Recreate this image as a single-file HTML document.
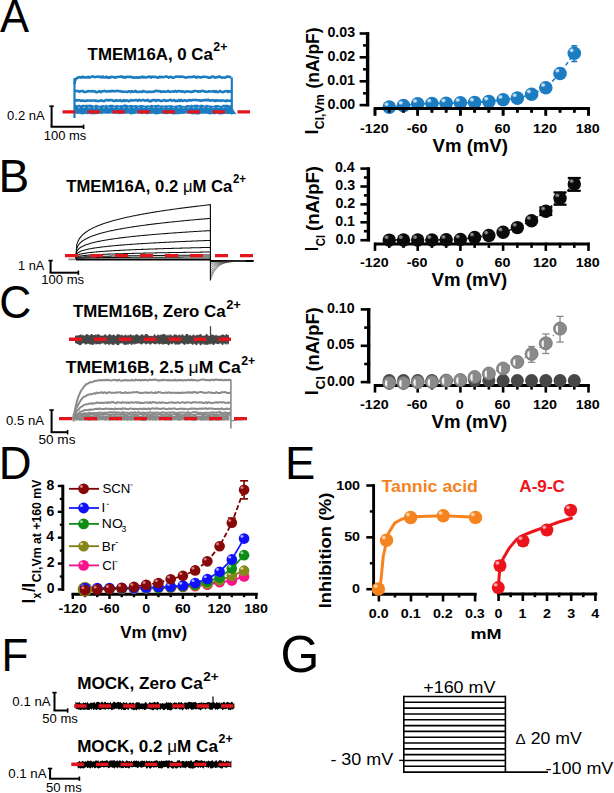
<!DOCTYPE html>
<html><head><meta charset="utf-8"><style>
html,body{margin:0;padding:0;background:#fff;}
svg{display:block;}
text{font-family:"Liberation Sans",sans-serif;}
</style></head><body>
<svg width="614" height="793" viewBox="0 0 614 793">
<defs><radialGradient id="hl_gBlue"><stop offset="0" stop-color="#ffffff" stop-opacity="0.9"/><stop offset="0.5" stop-color="#ffffff" stop-opacity="0.63"/><stop offset="1" stop-color="#ffffff" stop-opacity="0"/></radialGradient>
<radialGradient id="hl_gBlack"><stop offset="0" stop-color="#b0b0b0" stop-opacity="0.9"/><stop offset="0.5" stop-color="#b0b0b0" stop-opacity="0.63"/><stop offset="1" stop-color="#b0b0b0" stop-opacity="0"/></radialGradient>
<radialGradient id="hl_gGreyL"><stop offset="0" stop-color="#ffffff" stop-opacity="0.0"/><stop offset="0.5" stop-color="#ffffff" stop-opacity="0.0"/><stop offset="1" stop-color="#ffffff" stop-opacity="0"/></radialGradient>
<radialGradient id="hl_gGreyD"><stop offset="0" stop-color="#474747" stop-opacity="0.0"/><stop offset="0.5" stop-color="#474747" stop-opacity="0.0"/><stop offset="1" stop-color="#474747" stop-opacity="0"/></radialGradient>
<radialGradient id="hl_gMaroon"><stop offset="0" stop-color="#ffb0b0" stop-opacity="0.85"/><stop offset="0.5" stop-color="#ffb0b0" stop-opacity="0.595"/><stop offset="1" stop-color="#ffb0b0" stop-opacity="0"/></radialGradient>
<radialGradient id="hl_gBlueD"><stop offset="0" stop-color="#e0e8ff" stop-opacity="0.9"/><stop offset="0.5" stop-color="#e0e8ff" stop-opacity="0.63"/><stop offset="1" stop-color="#e0e8ff" stop-opacity="0"/></radialGradient>
<radialGradient id="hl_gGreen"><stop offset="0" stop-color="#c8f8c8" stop-opacity="0.85"/><stop offset="0.5" stop-color="#c8f8c8" stop-opacity="0.595"/><stop offset="1" stop-color="#c8f8c8" stop-opacity="0"/></radialGradient>
<radialGradient id="hl_gOlive"><stop offset="0" stop-color="#f8f8c8" stop-opacity="0.85"/><stop offset="0.5" stop-color="#f8f8c8" stop-opacity="0.595"/><stop offset="1" stop-color="#f8f8c8" stop-opacity="0"/></radialGradient>
<radialGradient id="hl_gPink"><stop offset="0" stop-color="#ffd8ec" stop-opacity="0.85"/><stop offset="0.5" stop-color="#ffd8ec" stop-opacity="0.595"/><stop offset="1" stop-color="#ffd8ec" stop-opacity="0"/></radialGradient>
<radialGradient id="hl_gOrange"><stop offset="0" stop-color="#fff0e0" stop-opacity="0.9"/><stop offset="0.5" stop-color="#fff0e0" stop-opacity="0.63"/><stop offset="1" stop-color="#fff0e0" stop-opacity="0"/></radialGradient>
<radialGradient id="hl_gRed"><stop offset="0" stop-color="#ffe0e0" stop-opacity="0.9"/><stop offset="0.5" stop-color="#ffe0e0" stop-opacity="0.63"/><stop offset="1" stop-color="#ffe0e0" stop-opacity="0"/></radialGradient></defs>
<rect width="614" height="793" fill="#fff"/>
<text x="-0.09" y="32.2" font-size="46.5" font-weight="normal" fill="#000" textLength="29.07" lengthAdjust="spacingAndGlyphs">A</text>
<text x="-1.38" y="192.2" font-size="46.5" font-weight="normal" fill="#000" textLength="30.7" lengthAdjust="spacingAndGlyphs">B</text>
<text x="-0.65" y="318.4" font-size="47" font-weight="normal" fill="#000" textLength="32.04" lengthAdjust="spacingAndGlyphs">C</text>
<text x="-1.33" y="478.6" font-size="46.5" font-weight="normal" fill="#000" textLength="32.8" lengthAdjust="spacingAndGlyphs">D</text>
<text x="284.88" y="478.7" font-size="46.8" font-weight="normal" fill="#000" textLength="30.27" lengthAdjust="spacingAndGlyphs">E</text>
<text x="1.39" y="671" font-size="46.5" font-weight="normal" fill="#000" textLength="26.87" lengthAdjust="spacingAndGlyphs">F</text>
<text x="280.59" y="671.6" font-size="51.4" font-weight="normal" fill="#000" textLength="38.84" lengthAdjust="spacingAndGlyphs">G</text>
<text x="87.61" y="59.8" font-size="17" font-weight="bold" fill="#000" textLength="125.18" lengthAdjust="spacingAndGlyphs">TMEM16A, 0 Ca</text>
<text x="213.37" y="51.4" font-size="12.2" font-weight="bold" fill="#000" textLength="14.13" lengthAdjust="spacingAndGlyphs">2+</text>
<text x="66.21" y="191.8" font-size="17" font-weight="bold" fill="#000" textLength="166.18" lengthAdjust="spacingAndGlyphs">TMEM16A, 0.2 <tspan font-weight="normal">μ</tspan>M Ca</text>
<text x="233" y="183.4" font-size="12.2" font-weight="bold" fill="#000" textLength="13.06" lengthAdjust="spacingAndGlyphs">2+</text>
<text x="73.01" y="317.4" font-size="17" font-weight="bold" fill="#000" textLength="152.58" lengthAdjust="spacingAndGlyphs">TMEM16B, Zero Ca</text>
<text x="226.15" y="309" font-size="12.2" font-weight="bold" fill="#000" textLength="14.77" lengthAdjust="spacingAndGlyphs">2+</text>
<text x="65.7" y="372.9" font-size="17" font-weight="bold" fill="#000" textLength="174.99" lengthAdjust="spacingAndGlyphs">TMEM16B, 2.5 <tspan font-weight="normal">μ</tspan>M Ca</text>
<text x="241.27" y="364.5" font-size="12.2" font-weight="bold" fill="#000" textLength="14.02" lengthAdjust="spacingAndGlyphs">2+</text>
<text x="77.15" y="689" font-size="17" font-weight="bold" fill="#000" textLength="125.64" lengthAdjust="spacingAndGlyphs">MOCK, Zero Ca</text>
<text x="203.33" y="680.6" font-size="12.2" font-weight="bold" fill="#000" textLength="15.42" lengthAdjust="spacingAndGlyphs">2+</text>
<text x="77.16" y="751.7" font-size="17" font-weight="bold" fill="#000" textLength="140.73" lengthAdjust="spacingAndGlyphs">MOCK, 0.2 <tspan font-weight="normal">μ</tspan>M Ca</text>
<text x="218.47" y="743.3" font-size="12.2" font-weight="bold" fill="#000" textLength="14.24" lengthAdjust="spacingAndGlyphs">2+</text>
<line x1="51.6" y1="106.2" x2="51.6" y2="126.8" stroke="#000" stroke-width="2"/>
<line x1="49.4" y1="106.2" x2="53.8" y2="106.2" stroke="#000" stroke-width="1.6"/>
<line x1="50.6" y1="126.8" x2="83.6" y2="126.8" stroke="#000" stroke-width="2"/>
<line x1="83.6" y1="124.6" x2="83.6" y2="129" stroke="#000" stroke-width="1.6"/>
<text x="7.09" y="119.8" font-size="12.2" font-weight="normal" fill="#000" textLength="37.63" lengthAdjust="spacingAndGlyphs">0.2 nA</text>
<text x="43.71" y="139.9" font-size="12.2" font-weight="normal" fill="#000" textLength="42.56" lengthAdjust="spacingAndGlyphs">100 ms</text>
<line x1="50.6" y1="260.6" x2="50.6" y2="272.7" stroke="#000" stroke-width="2"/>
<line x1="48.4" y1="260.6" x2="52.8" y2="260.6" stroke="#000" stroke-width="1.6"/>
<line x1="49.6" y1="272.7" x2="78.4" y2="272.7" stroke="#000" stroke-width="2"/>
<line x1="78.4" y1="270.5" x2="78.4" y2="274.9" stroke="#000" stroke-width="1.6"/>
<text x="18.13" y="269.8" font-size="12.2" font-weight="normal" fill="#000" textLength="26.19" lengthAdjust="spacingAndGlyphs">1 nA</text>
<text x="41.2" y="284.4" font-size="12.2" font-weight="normal" fill="#000" textLength="42.87" lengthAdjust="spacingAndGlyphs">100 ms</text>
<line x1="51.6" y1="410" x2="51.6" y2="432.2" stroke="#000" stroke-width="2"/>
<line x1="49.4" y1="410" x2="53.8" y2="410" stroke="#000" stroke-width="1.6"/>
<line x1="50.6" y1="432.2" x2="67.6" y2="432.2" stroke="#000" stroke-width="2"/>
<line x1="67.6" y1="430" x2="67.6" y2="434.4" stroke="#000" stroke-width="1.6"/>
<text x="5.99" y="424.8" font-size="12.2" font-weight="normal" fill="#000" textLength="38.04" lengthAdjust="spacingAndGlyphs">0.5 nA</text>
<text x="38.46" y="443.6" font-size="12.2" font-weight="normal" fill="#000" textLength="37.04" lengthAdjust="spacingAndGlyphs">50 ms</text>
<line x1="54.5" y1="692.6" x2="54.5" y2="710.5" stroke="#000" stroke-width="2"/>
<line x1="52.3" y1="692.6" x2="56.7" y2="692.6" stroke="#000" stroke-width="1.6"/>
<line x1="53.5" y1="710.5" x2="67.7" y2="710.5" stroke="#000" stroke-width="2"/>
<line x1="67.7" y1="708.3" x2="67.7" y2="712.7" stroke="#000" stroke-width="1.6"/>
<text x="12.38" y="706.1" font-size="12.2" font-weight="normal" fill="#000" textLength="38.24" lengthAdjust="spacingAndGlyphs">0.1 nA</text>
<text x="42.28" y="723.4" font-size="12.2" font-weight="normal" fill="#000" textLength="35.6" lengthAdjust="spacingAndGlyphs">50 ms</text>
<line x1="50.1" y1="768.5" x2="50.1" y2="778.7" stroke="#000" stroke-width="2"/>
<line x1="47.9" y1="768.5" x2="52.3" y2="768.5" stroke="#000" stroke-width="1.6"/>
<line x1="49.1" y1="778.7" x2="79.4" y2="778.7" stroke="#000" stroke-width="2"/>
<line x1="79.4" y1="776.5" x2="79.4" y2="780.9" stroke="#000" stroke-width="1.6"/>
<text x="8.28" y="777.7" font-size="12.2" font-weight="normal" fill="#000" textLength="38.34" lengthAdjust="spacingAndGlyphs">0.1 nA</text>
<text x="46.07" y="791.6" font-size="12.2" font-weight="normal" fill="#000" textLength="35.8" lengthAdjust="spacingAndGlyphs">50 ms</text>
<polygon points="74.5,104.95 76,104.71 77.5,105.41 79,104.6 80.5,105.25 82,105.01 83.5,104.58 85,105.21 86.5,104.55 88,105.11 89.5,104.6 91,104.63 92.5,105.09 94,105.66 95.5,104.67 97,104.81 98.5,105.38 100,105.83 101.5,105.31 103,105.06 104.5,105.87 106,104.57 107.5,105.7 109,104.91 110.5,104.7 112,104.66 113.5,104.93 115,105.64 116.5,104.75 118,105.31 119.5,105.39 121,105.02 122.5,105.27 124,104.59 125.5,104.58 127,104.79 128.5,105.45 130,105.1 131.5,104.94 133,105.32 134.5,105.13 136,104.92 137.5,105.61 139,105.48 140.5,104.84 142,105.3 143.5,105.24 145,105.73 146.5,105.52 148,104.9 149.5,105.87 151,104.67 152.5,105.09 154,105.56 155.5,104.71 157,105.18 158.5,104.55 160,105.44 161.5,105.57 163,105.3 164.5,105.73 166,104.94 167.5,105.47 169,105.33 170.5,105.31 172,105.14 173.5,105.68 175,105.82 176.5,105.16 178,105.43 179.5,104.58 181,105.48 182.5,105.41 184,105.89 185.5,105.65 187,104.9 188.5,105.04 190,105.44 191.5,104.53 193,105.15 194.5,104.74 196,104.66 197.5,104.58 199,105.58 200.5,104.68 202,104.85 203.5,105.05 205,105.72 206.5,104.61 208,105.13 209.5,105.27 211,105.74 212.5,105.65 214,105.71 215.5,104.89 217,105.08 218.5,105 220,105.74 221.5,105.84 223,104.71 224.5,104.75 226,104.82 227.5,104.83 229,105.18 230.5,105.32 236.5,114.45 235,113.9 233.5,113.9 232,114.47 230.5,114.3 229,113.83 227.5,114.29 226,113.68 224.5,113.98 223,114.25 221.5,114.28 220,114.41 218.5,114.16 217,113.58 215.5,114.3 214,114.15 212.5,113.98 211,114.34 209.5,114.4 208,114.12 206.5,113.7 205,113.7 203.5,113.73 202,113.72 200.5,113.86 199,114.46 197.5,114.49 196,114.44 194.5,113.95 193,114.46 191.5,114.19 190,113.76 188.5,113.78 187,113.53 185.5,113.53 184,113.86 182.5,114.02 181,113.73 179.5,114.24 178,114.32 176.5,114.31 175,114.35 173.5,114.48 172,114.31 170.5,113.72 169,113.83 167.5,114.28 166,114.03 164.5,114.27 163,113.67 161.5,113.87 160,113.76 158.5,114.2 157,114.36 155.5,114.48 154,114.03 152.5,113.53 151,114.04 149.5,113.65 148,114.03 146.5,114.45 145,113.52 143.5,113.66 142,114.33 140.5,113.76 139,113.84 137.5,113.6 136,113.59 134.5,113.98 133,113.97 131.5,114.49 130,114.35 128.5,113.62 127,113.86 125.5,113.85 124,113.75 122.5,113.65 121,114.11 119.5,114.37 118,113.53 116.5,113.86 115,113.6 113.5,113.65 112,113.5 110.5,113.55 109,113.84 107.5,113.66 106,113.71 104.5,113.57 103,113.56 101.5,114.13 100,113.6 98.5,113.9 97,113.89 95.5,114.3 94,114.37 92.5,114.28 91,114.4 89.5,113.55 88,114.18 86.5,114.12 85,114.02 83.5,114.19 82,114.45 80.5,114.07 79,113.87 77.5,113.92 76,113.5 74.5,113.76" fill="#1b7cc0"/>
<polyline points="78,107.73 81,107.4 84,107.38 87,107.39 90,107.84 93,107.78 96,107.39 99,107.8 102,107.89 105,107.69 108,107.51 111,107.63 114,107.38 117,107.31 120,107.88 123,107.69 126,107.62 129,107.86 132,107.56 135,107.82 138,107.8 141,107.43 144,107.45 147,107.48 150,107.44 153,107.65 156,107.46 159,107.55 162,107.38 165,107.85 168,107.51 171,107.57 174,107.65 177,107.84 180,107.55 183,107.85 186,107.6 189,107.62 192,107.61 195,107.31 198,107.56 201,107.41 204,107.3 207,107.78 210,107.4 213,107.58 216,107.74 219,107.63 222,107.5 225,107.61 228,107.63" fill="none" stroke="#9fd0f0" stroke-width="0.8" stroke-linejoin="round" stroke-dasharray="2 3"/>
<polyline points="74.5,100.87 75.7,99.99 76.9,100.58 78.1,100.17 79.3,100.21 80.5,100.85 81.7,100.51 82.9,100.58 84.1,100.84 85.3,101.04 86.5,100.43 87.7,100.65 88.9,100.51 90.1,100.52 91.3,100.75 92.5,100.44 93.7,100.54 94.9,100.47 96.1,101.07 97.3,100.76 98.5,100.99 99.7,101.07 100.9,100.19 102.1,100.58 103.3,101.08 104.5,100.94 105.7,100.03 106.9,100.01 108.1,100.42 109.3,99.94 110.5,100.16 111.7,99.95 112.9,100.72 114.1,100.87 115.3,101.02 116.5,100.05 117.7,100.78 118.9,100.71 120.1,100.04 121.3,101 122.5,101.11 123.7,100.14 124.9,101.09 126.1,100.37 127.3,100.48 128.5,101.14 129.7,100.93 130.9,100.06 132.1,100.41 133.3,100.52 134.5,100.29 135.7,100.1 136.9,100.26 138.1,100.79 139.3,99.88 140.5,100.57 141.7,100.42 142.9,99.87 144.1,100.28 145.3,100.66 146.5,100.52 147.7,99.93 148.9,101.13 150.1,100.87 151.3,101.11 152.5,99.99 153.7,100.2 154.9,99.9 156.1,100.86 157.3,100.2 158.5,100.02 159.7,100.4 160.9,101.03 162.1,100.91 163.3,100.19 164.5,100.04 165.7,101.04 166.9,100.59 168.1,100.76 169.3,99.97 170.5,99.92 171.7,100.74 172.9,100.4 174.1,99.94 175.3,101.07 176.5,100.67 177.7,100.89 178.9,99.96 180.1,100.96 181.3,99.94 182.5,100.97 183.7,100.44 184.9,100.29 186.1,100.57 187.3,101.05 188.5,100.2 189.7,100.02 190.9,100.53 192.1,100.16 193.3,99.99 194.5,100.06 195.7,99.92 196.9,100.11 198.1,100.26 199.3,100.25 200.5,100.84 201.7,100.23 202.9,100.5 204.1,100.08 205.3,100.3 206.5,99.87 207.7,100.18 208.9,99.87 210.1,100.8 211.3,100.57 212.5,100.1 213.7,100.47 214.9,101.07 216.1,99.99 217.3,100.91 218.5,100.41 219.7,100.49 220.9,100.93 222.1,100.36 223.3,100.51 224.5,100.74 225.7,101.13 226.9,100.3 228.1,100.93 229.3,100.77 230.5,100.68 231.7,100.38" fill="none" stroke="#1b7cc0" stroke-width="2.6" stroke-linejoin="round"/>
<polyline points="74.5,91.3 75.7,90.92 76.9,91.02 78.1,90.94 79.3,91.81 80.5,91.18 81.7,91.06 82.9,90.96 84.1,91.94 85.3,91.98 86.5,91.72 87.7,91.22 88.9,91.16 90.1,91.23 91.3,91.45 92.5,91.05 93.7,91.43 94.9,91.19 96.1,92.1 97.3,92.11 98.5,91.56 99.7,91.17 100.9,92.11 102.1,91.25 103.3,91.31 104.5,90.85 105.7,91.35 106.9,91.47 108.1,91.5 109.3,91.11 110.5,91.51 111.7,90.86 112.9,91.19 114.1,90.97 115.3,91.37 116.5,90.9 117.7,90.88 118.9,91.25 120.1,91.15 121.3,91.61 122.5,91.54 123.7,91.83 124.9,91.7 126.1,91.78 127.3,91.99 128.5,91.36 129.7,91.27 130.9,92.13 132.1,91.04 133.3,91.79 134.5,91.69 135.7,90.91 136.9,91.94 138.1,92.01 139.3,91.67 140.5,91.8 141.7,91.91 142.9,91.03 144.1,91.53 145.3,91.51 146.5,91.94 147.7,91.9 148.9,91.92 150.1,91.61 151.3,92.01 152.5,91.74 153.7,91.75 154.9,91.15 156.1,90.89 157.3,91.02 158.5,91.32 159.7,90.99 160.9,91.94 162.1,91.58 163.3,91.67 164.5,91.66 165.7,91.73 166.9,91.49 168.1,90.85 169.3,91.89 170.5,91.82 171.7,91.5 172.9,91.55 174.1,91.71 175.3,90.94 176.5,91.81 177.7,91.18 178.9,90.95 180.1,91.2 181.3,91.8 182.5,91.12 183.7,91.81 184.9,92.12 186.1,91.49 187.3,91.35 188.5,91.47 189.7,91.74 190.9,91.85 192.1,91.65 193.3,91.69 194.5,90.95 195.7,91.04 196.9,91.18 198.1,91.82 199.3,91.25 200.5,91.59 201.7,90.87 202.9,90.93 204.1,91.2 205.3,91.72 206.5,91.75 207.7,91.73 208.9,91.23 210.1,91.52 211.3,91.45 212.5,91.46 213.7,91 214.9,92.01 216.1,91.11 217.3,92.12 218.5,92.07 219.7,90.87 220.9,91.45 222.1,91.92 223.3,92.11 224.5,91.43 225.7,91.2 226.9,91.12 228.1,92.08 229.3,91.12 230.5,91.61 231.7,91.03" fill="none" stroke="#1b7cc0" stroke-width="2.6" stroke-linejoin="round"/>
<polyline points="74.5,84 75,80.5 76.5,78.2 79,77.3 80,77.13 81.2,77.69 82.4,76.62 83.6,77.52 84.8,77.11 86,77.6 87.2,77.36 88.4,76.75 89.6,77.62 90.8,77.08 92,76.48 93.2,76.45 94.4,77.09 95.6,77.04 96.8,76.84 98,76.63 99.2,76.9 100.4,76.86 101.6,77.54 102.8,76.45 104,77.43 105.2,77.54 106.4,76.61 107.6,77.65 108.8,77.38 110,77.62 111.2,76.83 112.4,76.93 113.6,76.96 114.8,77.75 116,77.22 117.2,76.92 118.4,77.01 119.6,76.81 120.8,76.51 122,76.58 123.2,77.54 124.4,76.82 125.6,77.67 126.8,76.77 128,76.8 129.2,77.11 130.4,76.7 131.6,76.94 132.8,77.69 134,77.6 135.2,77.51 136.4,77.27 137.6,77.64 138.8,77.67 140,77.16 141.2,77.39 142.4,76.51 143.6,77.4 144.8,77.04 146,77.43 147.2,77.29 148.4,76.82 149.6,76.51 150.8,77.65 152,76.62 153.2,77.06 154.4,76.9 155.6,76.84 156.8,77.41 158,77.72 159.2,76.79 160.4,77.3 161.6,76.84 162.8,77.17 164,76.96 165.2,76.67 166.4,76.66 167.6,76.72 168.8,77.63 170,77.1 171.2,76.74 172.4,77.63 173.6,77.75 174.8,77.03 176,76.63 177.2,76.7 178.4,76.57 179.6,76.89 180.8,76.57 182,76.76 183.2,76.79 184.4,77.19 185.6,77.6 186.8,77.42 188,76.99 189.2,76.99 190.4,77.13 191.6,76.94 192.8,76.89 194,76.53 195.2,76.81 196.4,77.71 197.6,76.61 198.8,77.1 200,77.27 201.2,77.57 202.4,76.73 203.6,76.8 204.8,76.77 206,76.97 207.2,77.03 208.4,77.69 209.6,77.55 210.8,77.58 212,76.48 213.2,76.49 214.4,77.37 215.6,77.61 216.8,77.07 218,77.21 219.2,76.45 220.4,76.96 221.6,77.65 222.8,77.52 224,77.56 225.2,77.71 226.4,76.77 227.6,76.59 228.8,76.65 230,77.13 231.2,77.34" fill="none" stroke="#1b7cc0" stroke-width="2.6" stroke-linejoin="round"/>
<line x1="74.5" y1="78" x2="74.5" y2="118" stroke="#1b7cc0" stroke-width="2.2"/>
<line x1="231.8" y1="77.5" x2="231.8" y2="113" stroke="#1b7cc0" stroke-width="2.2"/>
<line x1="62.5" y1="111.8" x2="250" y2="111.8" stroke="#e3161e" stroke-width="3.3" stroke-dasharray="12.5 12.5"/>
<polyline points="75.8,258.6 76.8,244.6 77.8,241.66 78.8,239.66 79.8,238.1 80.8,236.81 81.8,235.69 82.8,234.69 83.8,233.8 84.8,232.98 85.8,232.23 86.8,231.53 87.8,230.87 88.8,230.26 89.8,229.67 90.8,229.12 91.8,228.59 92.8,228.09 93.8,227.6 94.8,227.14 95.8,226.69 96.8,226.26 97.8,225.85 98.8,225.44 99.8,225.05 100.8,224.67 101.8,224.31 102.8,223.95 103.8,223.6 104.8,223.26 105.8,222.93 106.8,222.61 107.8,222.29 108.8,221.98 109.8,221.68 110.8,221.38 111.8,221.1 112.8,220.81 113.8,220.53 114.8,220.26 115.8,219.99 116.8,219.73 117.8,219.47 118.8,219.22 119.8,218.97 120.8,218.72 121.8,218.48 122.8,218.24 123.8,218.01 124.8,217.78 125.8,217.55 126.8,217.33 127.8,217.1 128.8,216.89 129.8,216.67 130.8,216.46 131.8,216.25 132.8,216.04 133.8,215.84 134.8,215.64 135.8,215.44 136.8,215.24 137.8,215.05 138.8,214.86 139.8,214.67 140.8,214.48 141.8,214.29 142.8,214.11 143.8,213.93 144.8,213.75 145.8,213.57 146.8,213.39 147.8,213.22 148.8,213.05 149.8,212.88 150.8,212.71 151.8,212.54 152.8,212.37 153.8,212.21 154.8,212.05 155.8,211.89 156.8,211.73 157.8,211.57 158.8,211.41 159.8,211.25 160.8,211.1 161.8,210.95 162.8,210.8 163.8,210.64 164.8,210.5 165.8,210.35 166.8,210.2 167.8,210.06 168.8,209.91 169.8,209.77 170.8,209.62 171.8,209.48 172.8,209.34 173.8,209.2 174.8,209.07 175.8,208.93 176.8,208.79 177.8,208.66 178.8,208.52 179.8,208.39 180.8,208.26 181.8,208.13 182.8,208 183.8,207.87 184.8,207.74 185.8,207.61 186.8,207.48 187.8,207.36 188.8,207.23 189.8,207.11 190.8,206.98 191.8,206.86 192.8,206.74 193.8,206.62 194.8,206.5 195.8,206.38 196.8,206.26 197.8,206.14 198.8,206.02 199.8,205.9 200.8,205.79 201.8,205.67 202.8,205.55 203.8,205.44 204.8,205.33 205.8,205.21 206.8,205.1 207.8,204.99 208.8,204.88 209.8,204.77 210.8,204.66" fill="none" stroke="#111" stroke-width="1.05" stroke-linejoin="round"/>
<polyline points="75.8,258.6 76.8,248.16 77.8,245.97 78.8,244.48 79.8,243.31 80.8,242.35 81.8,241.51 82.8,240.77 83.8,240.1 84.8,239.49 85.8,238.93 86.8,238.41 87.8,237.92 88.8,237.46 89.8,237.03 90.8,236.61 91.8,236.22 92.8,235.84 93.8,235.48 94.8,235.14 95.8,234.8 96.8,234.48 97.8,234.17 98.8,233.87 99.8,233.58 100.8,233.3 101.8,233.02 102.8,232.76 103.8,232.5 104.8,232.24 105.8,232 106.8,231.76 107.8,231.52 108.8,231.29 109.8,231.06 110.8,230.84 111.8,230.63 112.8,230.42 113.8,230.21 114.8,230.01 115.8,229.81 116.8,229.61 117.8,229.42 118.8,229.23 119.8,229.04 120.8,228.86 121.8,228.68 122.8,228.5 123.8,228.33 124.8,228.15 125.8,227.98 126.8,227.82 127.8,227.65 128.8,227.49 129.8,227.33 130.8,227.17 131.8,227.01 132.8,226.86 133.8,226.71 134.8,226.56 135.8,226.41 136.8,226.26 137.8,226.12 138.8,225.97 139.8,225.83 140.8,225.69 141.8,225.55 142.8,225.42 143.8,225.28 144.8,225.15 145.8,225.02 146.8,224.88 147.8,224.75 148.8,224.63 149.8,224.5 150.8,224.37 151.8,224.25 152.8,224.12 153.8,224 154.8,223.88 155.8,223.76 156.8,223.64 157.8,223.52 158.8,223.4 159.8,223.29 160.8,223.17 161.8,223.06 162.8,222.95 163.8,222.83 164.8,222.72 165.8,222.61 166.8,222.5 167.8,222.39 168.8,222.29 169.8,222.18 170.8,222.07 171.8,221.97 172.8,221.86 173.8,221.76 174.8,221.66 175.8,221.55 176.8,221.45 177.8,221.35 178.8,221.25 179.8,221.15 180.8,221.05 181.8,220.96 182.8,220.86 183.8,220.76 184.8,220.67 185.8,220.57 186.8,220.48 187.8,220.38 188.8,220.29 189.8,220.2 190.8,220.1 191.8,220.01 192.8,219.92 193.8,219.83 194.8,219.74 195.8,219.65 196.8,219.56 197.8,219.47 198.8,219.38 199.8,219.3 200.8,219.21 201.8,219.12 202.8,219.04 203.8,218.95 204.8,218.87 205.8,218.78 206.8,218.7 207.8,218.62 208.8,218.53 209.8,218.45 210.8,218.37" fill="none" stroke="#111" stroke-width="1.05" stroke-linejoin="round"/>
<polyline points="75.8,258.6 76.8,251.33 77.8,249.8 78.8,248.76 79.8,247.95 80.8,247.28 81.8,246.7 82.8,246.18 83.8,245.72 84.8,245.29 85.8,244.9 86.8,244.54 87.8,244.2 88.8,243.88 89.8,243.57 90.8,243.29 91.8,243.01 92.8,242.75 93.8,242.5 94.8,242.26 95.8,242.02 96.8,241.8 97.8,241.58 98.8,241.38 99.8,241.17 100.8,240.98 101.8,240.78 102.8,240.6 103.8,240.42 104.8,240.24 105.8,240.07 106.8,239.9 107.8,239.74 108.8,239.58 109.8,239.42 110.8,239.27 111.8,239.12 112.8,238.97 113.8,238.83 114.8,238.68 115.8,238.54 116.8,238.41 117.8,238.27 118.8,238.14 119.8,238.01 120.8,237.88 121.8,237.76 122.8,237.63 123.8,237.51 124.8,237.39 125.8,237.28 126.8,237.16 127.8,237.04 128.8,236.93 129.8,236.82 130.8,236.71 131.8,236.6 132.8,236.49 133.8,236.39 134.8,236.28 135.8,236.18 136.8,236.08 137.8,235.98 138.8,235.88 139.8,235.78 140.8,235.68 141.8,235.58 142.8,235.49 143.8,235.39 144.8,235.3 145.8,235.21 146.8,235.12 147.8,235.03 148.8,234.94 149.8,234.85 150.8,234.76 151.8,234.67 152.8,234.59 153.8,234.5 154.8,234.42 155.8,234.33 156.8,234.25 157.8,234.17 158.8,234.09 159.8,234 160.8,233.92 161.8,233.85 162.8,233.77 163.8,233.69 164.8,233.61 165.8,233.53 166.8,233.46 167.8,233.38 168.8,233.31 169.8,233.23 170.8,233.16 171.8,233.09 172.8,233.01 173.8,232.94 174.8,232.87 175.8,232.8 176.8,232.73 177.8,232.66 178.8,232.59 179.8,232.52 180.8,232.45 181.8,232.38 182.8,232.31 183.8,232.25 184.8,232.18 185.8,232.11 186.8,232.05 187.8,231.98 188.8,231.91 189.8,231.85 190.8,231.79 191.8,231.72 192.8,231.66 193.8,231.6 194.8,231.53 195.8,231.47 196.8,231.41 197.8,231.35 198.8,231.29 199.8,231.22 200.8,231.16 201.8,231.1 202.8,231.04 203.8,230.98 204.8,230.93 205.8,230.87 206.8,230.81 207.8,230.75 208.8,230.69 209.8,230.63 210.8,230.58" fill="none" stroke="#111" stroke-width="1.05" stroke-linejoin="round"/>
<polyline points="75.8,258.6 76.8,253.87 77.8,252.88 78.8,252.21 79.8,251.68 80.8,251.24 81.8,250.86 82.8,250.53 83.8,250.23 84.8,249.95 85.8,249.7 86.8,249.46 87.8,249.24 88.8,249.03 89.8,248.83 90.8,248.65 91.8,248.47 92.8,248.3 93.8,248.13 94.8,247.98 95.8,247.83 96.8,247.68 97.8,247.54 98.8,247.4 99.8,247.27 100.8,247.14 101.8,247.02 102.8,246.9 103.8,246.78 104.8,246.67 105.8,246.56 106.8,246.45 107.8,246.34 108.8,246.24 109.8,246.13 110.8,246.03 111.8,245.94 112.8,245.84 113.8,245.75 114.8,245.65 115.8,245.56 116.8,245.47 117.8,245.39 118.8,245.3 119.8,245.22 120.8,245.13 121.8,245.05 122.8,244.97 123.8,244.89 124.8,244.82 125.8,244.74 126.8,244.66 127.8,244.59 128.8,244.51 129.8,244.44 130.8,244.37 131.8,244.3 132.8,244.23 133.8,244.16 134.8,244.09 135.8,244.03 136.8,243.96 137.8,243.89 138.8,243.83 139.8,243.77 140.8,243.7 141.8,243.64 142.8,243.58 143.8,243.52 144.8,243.46 145.8,243.4 146.8,243.34 147.8,243.28 148.8,243.22 149.8,243.16 150.8,243.1 151.8,243.05 152.8,242.99 153.8,242.94 154.8,242.88 155.8,242.83 156.8,242.77 157.8,242.72 158.8,242.67 159.8,242.61 160.8,242.56 161.8,242.51 162.8,242.46 163.8,242.41 164.8,242.36 165.8,242.31 166.8,242.26 167.8,242.21 168.8,242.16 169.8,242.11 170.8,242.06 171.8,242.02 172.8,241.97 173.8,241.92 174.8,241.87 175.8,241.83 176.8,241.78 177.8,241.74 178.8,241.69 179.8,241.65 180.8,241.6 181.8,241.56 182.8,241.51 183.8,241.47 184.8,241.43 185.8,241.38 186.8,241.34 187.8,241.3 188.8,241.25 189.8,241.21 190.8,241.17 191.8,241.13 192.8,241.09 193.8,241.05 194.8,241.01 195.8,240.97 196.8,240.93 197.8,240.89 198.8,240.85 199.8,240.81 200.8,240.77 201.8,240.73 202.8,240.69 203.8,240.65 204.8,240.61 205.8,240.57 206.8,240.54 207.8,240.5 208.8,240.46 209.8,240.42 210.8,240.39" fill="none" stroke="#111" stroke-width="1.05" stroke-linejoin="round"/>
<polyline points="75.8,258.6 76.8,255.69 77.8,255.08 78.8,254.67 79.8,254.34 80.8,254.07 81.8,253.84 82.8,253.63 83.8,253.45 84.8,253.28 85.8,253.12 86.8,252.98 87.8,252.84 88.8,252.71 89.8,252.59 90.8,252.47 91.8,252.36 92.8,252.26 93.8,252.16 94.8,252.06 95.8,251.97 96.8,251.88 97.8,251.79 98.8,251.71 99.8,251.63 100.8,251.55 101.8,251.47 102.8,251.4 103.8,251.33 104.8,251.26 105.8,251.19 106.8,251.12 107.8,251.06 108.8,250.99 109.8,250.93 110.8,250.87 111.8,250.81 112.8,250.75 113.8,250.69 114.8,250.63 115.8,250.58 116.8,250.52 117.8,250.47 118.8,250.42 119.8,250.36 120.8,250.31 121.8,250.26 122.8,250.21 123.8,250.17 124.8,250.12 125.8,250.07 126.8,250.02 127.8,249.98 128.8,249.93 129.8,249.89 130.8,249.84 131.8,249.8 132.8,249.76 133.8,249.71 134.8,249.67 135.8,249.63 136.8,249.59 137.8,249.55 138.8,249.51 139.8,249.47 140.8,249.43 141.8,249.39 142.8,249.36 143.8,249.32 144.8,249.28 145.8,249.24 146.8,249.21 147.8,249.17 148.8,249.13 149.8,249.1 150.8,249.06 151.8,249.03 152.8,248.99 153.8,248.96 154.8,248.93 155.8,248.89 156.8,248.86 157.8,248.83 158.8,248.79 159.8,248.76 160.8,248.73 161.8,248.7 162.8,248.67 163.8,248.64 164.8,248.6 165.8,248.57 166.8,248.54 167.8,248.51 168.8,248.48 169.8,248.45 170.8,248.42 171.8,248.39 172.8,248.36 173.8,248.34 174.8,248.31 175.8,248.28 176.8,248.25 177.8,248.22 178.8,248.19 179.8,248.17 180.8,248.14 181.8,248.11 182.8,248.08 183.8,248.06 184.8,248.03 185.8,248 186.8,247.98 187.8,247.95 188.8,247.93 189.8,247.9 190.8,247.87 191.8,247.85 192.8,247.82 193.8,247.8 194.8,247.77 195.8,247.75 196.8,247.72 197.8,247.7 198.8,247.67 199.8,247.65 200.8,247.63 201.8,247.6 202.8,247.58 203.8,247.55 204.8,247.53 205.8,247.51 206.8,247.48 207.8,247.46 208.8,247.44 209.8,247.41 210.8,247.39" fill="none" stroke="#111" stroke-width="1.05" stroke-linejoin="round"/>
<polyline points="75.8,258.6 76.8,256.89 77.8,256.53 78.8,256.28 79.8,256.09 80.8,255.93 81.8,255.79 82.8,255.67 83.8,255.56 84.8,255.46 85.8,255.37 86.8,255.29 87.8,255.21 88.8,255.13 89.8,255.06 90.8,254.99 91.8,254.93 92.8,254.86 93.8,254.8 94.8,254.75 95.8,254.69 96.8,254.64 97.8,254.59 98.8,254.54 99.8,254.49 100.8,254.45 101.8,254.4 102.8,254.36 103.8,254.31 104.8,254.27 105.8,254.23 106.8,254.19 107.8,254.15 108.8,254.12 109.8,254.08 110.8,254.04 111.8,254.01 112.8,253.97 113.8,253.94 114.8,253.91 115.8,253.87 116.8,253.84 117.8,253.81 118.8,253.78 119.8,253.75 120.8,253.72 121.8,253.69 122.8,253.66 123.8,253.63 124.8,253.6 125.8,253.57 126.8,253.55 127.8,253.52 128.8,253.49 129.8,253.47 130.8,253.44 131.8,253.41 132.8,253.39 133.8,253.36 134.8,253.34 135.8,253.31 136.8,253.29 137.8,253.27 138.8,253.24 139.8,253.22 140.8,253.2 141.8,253.17 142.8,253.15 143.8,253.13 144.8,253.11 145.8,253.09 146.8,253.06 147.8,253.04 148.8,253.02 149.8,253 150.8,252.98 151.8,252.96 152.8,252.94 153.8,252.92 154.8,252.9 155.8,252.88 156.8,252.86 157.8,252.84 158.8,252.82 159.8,252.8 160.8,252.78 161.8,252.76 162.8,252.75 163.8,252.73 164.8,252.71 165.8,252.69 166.8,252.67 167.8,252.66 168.8,252.64 169.8,252.62 170.8,252.6 171.8,252.59 172.8,252.57 173.8,252.55 174.8,252.53 175.8,252.52 176.8,252.5 177.8,252.48 178.8,252.47 179.8,252.45 180.8,252.44 181.8,252.42 182.8,252.4 183.8,252.39 184.8,252.37 185.8,252.36 186.8,252.34 187.8,252.33 188.8,252.31 189.8,252.29 190.8,252.28 191.8,252.26 192.8,252.25 193.8,252.23 194.8,252.22 195.8,252.21 196.8,252.19 197.8,252.18 198.8,252.16 199.8,252.15 200.8,252.13 201.8,252.12 202.8,252.1 203.8,252.09 204.8,252.08 205.8,252.06 206.8,252.05 207.8,252.04 208.8,252.02 209.8,252.01 210.8,251.99" fill="none" stroke="#111" stroke-width="1.05" stroke-linejoin="round"/>
<polyline points="75.8,258.6 76.8,257.66 77.8,257.47 78.8,257.34 79.8,257.23 80.8,257.14 81.8,257.07 82.8,257 83.8,256.94 84.8,256.89 85.8,256.84 86.8,256.79 87.8,256.75 88.8,256.71 89.8,256.67 90.8,256.63 91.8,256.6 92.8,256.56 93.8,256.53 94.8,256.5 95.8,256.47 96.8,256.44 97.8,256.41 98.8,256.39 99.8,256.36 100.8,256.33 101.8,256.31 102.8,256.29 103.8,256.26 104.8,256.24 105.8,256.22 106.8,256.2 107.8,256.17 108.8,256.15 109.8,256.13 110.8,256.11 111.8,256.1 112.8,256.08 113.8,256.06 114.8,256.04 115.8,256.02 116.8,256 117.8,255.99 118.8,255.97 119.8,255.95 120.8,255.94 121.8,255.92 122.8,255.9 123.8,255.89 124.8,255.87 125.8,255.86 126.8,255.84 127.8,255.83 128.8,255.81 129.8,255.8 130.8,255.79 131.8,255.77 132.8,255.76 133.8,255.74 134.8,255.73 135.8,255.72 136.8,255.7 137.8,255.69 138.8,255.68 139.8,255.67 140.8,255.65 141.8,255.64 142.8,255.63 143.8,255.62 144.8,255.6 145.8,255.59 146.8,255.58 147.8,255.57 148.8,255.56 149.8,255.55 150.8,255.53 151.8,255.52 152.8,255.51 153.8,255.5 154.8,255.49 155.8,255.48 156.8,255.47 157.8,255.46 158.8,255.45 159.8,255.44 160.8,255.43 161.8,255.42 162.8,255.41 163.8,255.4 164.8,255.39 165.8,255.38 166.8,255.37 167.8,255.36 168.8,255.35 169.8,255.34 170.8,255.33 171.8,255.32 172.8,255.31 173.8,255.3 174.8,255.29 175.8,255.28 176.8,255.27 177.8,255.26 178.8,255.26 179.8,255.25 180.8,255.24 181.8,255.23 182.8,255.22 183.8,255.21 184.8,255.2 185.8,255.19 186.8,255.19 187.8,255.18 188.8,255.17 189.8,255.16 190.8,255.15 191.8,255.14 192.8,255.14 193.8,255.13 194.8,255.12 195.8,255.11 196.8,255.1 197.8,255.1 198.8,255.09 199.8,255.08 200.8,255.07 201.8,255.06 202.8,255.06 203.8,255.05 204.8,255.04 205.8,255.03 206.8,255.03 207.8,255.02 208.8,255.01 209.8,255 210.8,255" fill="none" stroke="#111" stroke-width="1.05" stroke-linejoin="round"/>
<polyline points="75.8,258.6 76.8,258.18 77.8,258.1 78.8,258.04 79.8,257.99 80.8,257.95 81.8,257.92 82.8,257.89 83.8,257.86 84.8,257.84 85.8,257.82 86.8,257.8 87.8,257.78 88.8,257.76 89.8,257.74 90.8,257.72 91.8,257.71 92.8,257.69 93.8,257.68 94.8,257.67 95.8,257.65 96.8,257.64 97.8,257.63 98.8,257.62 99.8,257.6 100.8,257.59 101.8,257.58 102.8,257.57 103.8,257.56 104.8,257.55 105.8,257.54 106.8,257.53 107.8,257.52 108.8,257.51 109.8,257.5 110.8,257.5 111.8,257.49 112.8,257.48 113.8,257.47 114.8,257.46 115.8,257.45 116.8,257.45 117.8,257.44 118.8,257.43 119.8,257.42 120.8,257.42 121.8,257.41 122.8,257.4 123.8,257.4 124.8,257.39 125.8,257.38 126.8,257.37 127.8,257.37 128.8,257.36 129.8,257.36 130.8,257.35 131.8,257.34 132.8,257.34 133.8,257.33 134.8,257.32 135.8,257.32 136.8,257.31 137.8,257.31 138.8,257.3 139.8,257.3 140.8,257.29 141.8,257.28 142.8,257.28 143.8,257.27 144.8,257.27 145.8,257.26 146.8,257.26 147.8,257.25 148.8,257.25 149.8,257.24 150.8,257.24 151.8,257.23 152.8,257.23 153.8,257.22 154.8,257.22 155.8,257.21 156.8,257.21 157.8,257.2 158.8,257.2 159.8,257.19 160.8,257.19 161.8,257.19 162.8,257.18 163.8,257.18 164.8,257.17 165.8,257.17 166.8,257.16 167.8,257.16 168.8,257.15 169.8,257.15 170.8,257.15 171.8,257.14 172.8,257.14 173.8,257.13 174.8,257.13 175.8,257.13 176.8,257.12 177.8,257.12 178.8,257.11 179.8,257.11 180.8,257.11 181.8,257.1 182.8,257.1 183.8,257.09 184.8,257.09 185.8,257.09 186.8,257.08 187.8,257.08 188.8,257.08 189.8,257.07 190.8,257.07 191.8,257.06 192.8,257.06 193.8,257.06 194.8,257.05 195.8,257.05 196.8,257.05 197.8,257.04 198.8,257.04 199.8,257.04 200.8,257.03 201.8,257.03 202.8,257.03 203.8,257.02 204.8,257.02 205.8,257.02 206.8,257.01 207.8,257.01 208.8,257.01 209.8,257 210.8,257" fill="none" stroke="#111" stroke-width="1.05" stroke-linejoin="round"/>
<line x1="75.8" y1="259.5" x2="210.6" y2="259.5" stroke="#000" stroke-width="2.2"/>
<line x1="68.5" y1="259.4" x2="75.8" y2="259.4" stroke="#8c8c8c" stroke-width="1.6"/>
<line x1="210.4" y1="204.5" x2="210.4" y2="280.5" stroke="#000" stroke-width="1.1"/>
<line x1="210.4" y1="261" x2="253.7" y2="261" stroke="#000" stroke-width="2.2"/>
<polyline points="210.4,262.27 211.2,262.13 212,262 212.8,261.88 213.6,261.78 214.4,261.69 215.2,261.61 216,261.54 216.8,261.48 217.6,261.42 218.4,261.37 219.2,261.33 220,261.29 220.8,261.26 221.6,261.23 222.4,261.2 223.2,261.18 224,261.16 224.8,261.14 225.6,261.12 226.4,261.11 227.2,261.1 228,261.08 228.8,261.08 229.6,261.07 230.4,261.06 231.2,261.05 232,261.05 232.8,261.04 233.6,261.04 234.4,261.03 235.2,261.03 236,261.02 236.8,261.02 237.6,261.02 238.4,261.02 239.2,261.02 240,261.01 240.8,261.01 241.6,261.01 242.4,261.01 243.2,261.01 244,261.01 244.8,261.01 245.6,261.01" fill="none" stroke="#333" stroke-width="0.55" stroke-linejoin="round"/>
<polyline points="210.4,264.13 211.2,263.77 212,263.45 212.8,263.17 213.6,262.92 214.4,262.69 215.2,262.5 216,262.32 216.8,262.17 217.6,262.04 218.4,261.92 219.2,261.81 220,261.72 220.8,261.63 221.6,261.56 222.4,261.49 223.2,261.44 224,261.39 224.8,261.34 225.6,261.3 226.4,261.27 227.2,261.24 228,261.21 228.8,261.18 229.6,261.16 230.4,261.14 231.2,261.13 232,261.11 232.8,261.1 233.6,261.09 234.4,261.08 235.2,261.07 236,261.06 236.8,261.05 237.6,261.05 238.4,261.04 239.2,261.04 240,261.03 240.8,261.03 241.6,261.03 242.4,261.02 243.2,261.02 244,261.02 244.8,261.02 245.6,261.01" fill="none" stroke="#333" stroke-width="0.55" stroke-linejoin="round"/>
<polyline points="210.4,266.31 211.2,265.69 212,265.15 212.8,264.67 213.6,264.24 214.4,263.87 215.2,263.54 216,263.24 216.8,262.98 217.6,262.75 218.4,262.55 219.2,262.37 220,262.21 220.8,262.07 221.6,261.95 222.4,261.84 223.2,261.74 224,261.66 224.8,261.58 225.6,261.51 226.4,261.45 227.2,261.4 228,261.35 228.8,261.31 229.6,261.28 230.4,261.24 231.2,261.22 232,261.19 232.8,261.17 233.6,261.15 234.4,261.13 235.2,261.12 236,261.1 236.8,261.09 237.6,261.08 238.4,261.07 239.2,261.06 240,261.06 240.8,261.05 241.6,261.04 242.4,261.04 243.2,261.03 244,261.03 244.8,261.03 245.6,261.02" fill="none" stroke="#333" stroke-width="0.55" stroke-linejoin="round"/>
<polyline points="210.4,268.72 211.2,267.82 212,267.03 212.8,266.33 213.6,265.72 214.4,265.17 215.2,264.69 216,264.26 216.8,263.88 217.6,263.55 218.4,263.25 219.2,262.99 220,262.76 220.8,262.56 221.6,262.38 222.4,262.22 223.2,262.08 224,261.95 224.8,261.84 225.6,261.74 226.4,261.66 227.2,261.58 228,261.51 228.8,261.46 229.6,261.4 230.4,261.36 231.2,261.31 232,261.28 232.8,261.25 233.6,261.22 234.4,261.19 235.2,261.17 236,261.15 236.8,261.13 237.6,261.12 238.4,261.1 239.2,261.09 240,261.08 240.8,261.07 241.6,261.06 242.4,261.06 243.2,261.05 244,261.04 244.8,261.04 245.6,261.03" fill="none" stroke="#333" stroke-width="0.55" stroke-linejoin="round"/>
<polyline points="210.4,271.31 211.2,270.12 212,269.06 212.8,268.13 213.6,267.3 214.4,266.57 215.2,265.93 216,265.36 216.8,264.85 217.6,264.41 218.4,264.01 219.2,263.66 220,263.35 220.8,263.08 221.6,262.84 222.4,262.63 223.2,262.44 224,262.27 224.8,262.13 225.6,261.99 226.4,261.88 227.2,261.78 228,261.69 228.8,261.61 229.6,261.54 230.4,261.48 231.2,261.42 232,261.37 232.8,261.33 233.6,261.29 234.4,261.26 235.2,261.23 236,261.2 236.8,261.18 237.6,261.16 238.4,261.14 239.2,261.12 240,261.11 240.8,261.1 241.6,261.08 242.4,261.08 243.2,261.07 244,261.06 244.8,261.05 245.6,261.05" fill="none" stroke="#333" stroke-width="0.55" stroke-linejoin="round"/>
<polyline points="210.4,274.07 211.2,272.56 212,271.22 212.8,270.04 213.6,268.99 214.4,268.06 215.2,267.25 216,266.52 216.8,265.88 217.6,265.32 218.4,264.82 219.2,264.38 220,263.98 220.8,263.64 221.6,263.33 222.4,263.06 223.2,262.82 224,262.61 224.8,262.43 225.6,262.26 226.4,262.12 227.2,261.99 228,261.87 228.8,261.77 229.6,261.68 230.4,261.6 231.2,261.53 232,261.47 232.8,261.42 233.6,261.37 234.4,261.33 235.2,261.29 236,261.25 236.8,261.23 237.6,261.2 238.4,261.18 239.2,261.16 240,261.14 240.8,261.12 241.6,261.11 242.4,261.1 243.2,261.08 244,261.07 244.8,261.07 245.6,261.06" fill="none" stroke="#333" stroke-width="0.55" stroke-linejoin="round"/>
<polyline points="210.4,276.97 211.2,275.12 212,273.49 212.8,272.04 213.6,270.76 214.4,269.63 215.2,268.63 216,267.75 216.8,266.97 217.6,266.28 218.4,265.66 219.2,265.12 220,264.65 220.8,264.22 221.6,263.85 222.4,263.52 223.2,263.23 224,262.97 224.8,262.74 225.6,262.54 226.4,262.36 227.2,262.2 228,262.07 228.8,261.94 229.6,261.83 230.4,261.74 231.2,261.65 232,261.58 232.8,261.51 233.6,261.45 234.4,261.4 235.2,261.35 236,261.31 236.8,261.28 237.6,261.24 238.4,261.22 239.2,261.19 240,261.17 240.8,261.15 241.6,261.13 242.4,261.12 243.2,261.1 244,261.09 244.8,261.08 245.6,261.07" fill="none" stroke="#333" stroke-width="0.55" stroke-linejoin="round"/>
<polyline points="210.4,280 211.2,277.8 212,275.85 212.8,274.13 213.6,272.61 214.4,271.27 215.2,270.08 216,269.03 216.8,268.1 217.6,267.28 218.4,266.55 219.2,265.91 220,265.34 220.8,264.84 221.6,264.39 222.4,264 223.2,263.65 224,263.34 224.8,263.07 225.6,262.83 226.4,262.62 227.2,262.43 228,262.27 228.8,262.12 229.6,261.99 230.4,261.88 231.2,261.77 232,261.68 232.8,261.61 233.6,261.54 234.4,261.47 235.2,261.42 236,261.37 236.8,261.33 237.6,261.29 238.4,261.26 239.2,261.23 240,261.2 240.8,261.18 241.6,261.16 242.4,261.14 243.2,261.12 244,261.11 244.8,261.1 245.6,261.08" fill="none" stroke="#333" stroke-width="0.55" stroke-linejoin="round"/>
<line x1="65" y1="255.6" x2="253.5" y2="255.6" stroke="#e3161e" stroke-width="3.3" stroke-dasharray="13 12"/>
<polygon points="75,336.06 76,335.53 77,335.35 78,335.64 79,334.9 80,335.12 81,333.89 82,335.68 83,334.36 84,336.01 85,335.35 86,334.53 87,334.11 88,334.4 89,335.33 90,335.48 91,334.07 92,333.97 93,335.06 94,335.2 95,334.73 96,334.34 97,335.24 98,333.83 99,334.52 100,334.91 101,336.1 102,335.35 103,335.92 104,334.94 105,334.36 106,334.39 107,336.11 108,335.49 109,334.54 110,333.85 111,335 112,335.42 113,334.81 114,334.42 115,335.4 116,336.02 117,334.34 118,333.88 119,334.61 120,334.81 121,335.44 122,334.28 123,335.71 124,335.57 125,335.01 126,334.29 127,336.13 128,334.55 129,335.77 130,334.35 131,334.33 132,335.63 133,334.51 134,336.08 135,334.99 136,334.25 137,334.34 138,334.8 139,335.4 140,336.08 141,334.15 142,334.74 143,334.31 144,336.14 145,334.14 146,333.92 147,333.94 148,334.74 149,335.96 150,335.92 151,335.56 152,336.19 153,336.04 154,334.59 155,334.25 156,336.05 157,335.59 158,333.88 159,335.39 160,334.71 161,334.7 162,334.6 163,334.21 164,333.81 165,334.47 166,334.64 167,336.09 168,334.1 169,336.11 170,334.3 171,334.66 172,335.77 173,335.77 174,334.84 175,333.92 176,334.94 177,334.69 178,336.01 179,334.26 180,334.67 181,335.95 182,333.87 183,334.79 184,335.75 185,335.64 186,333.9 187,333.88 188,333.95 189,336.01 190,334.42 191,335.59 192,335.96 193,334.61 194,334.45 195,336.1 196,335.28 197,334.43 198,335.52 199,334.56 200,334.46 201,333.81 202,335.61 203,336 204,335.32 205,336.06 206,333.86 207,334.36 208,334.94 209,336.1 210,336.09 211,334.73 212,334.4 213,334.83 214,334.98 215,336.03 216,334.24 217,335.73 218,335.57 219,335.77 220,335.65 221,335.26 222,334.59 223,334.57 224,334.67 225,335.68 226,333.99 227,334.27 228,335.61 229,334.39 229,343.28 228,345.01 227,343.09 226,344.82 225,344.35 224,343.1 223,345.15 222,344.74 221,343.59 220,343.3 219,343.92 218,344.24 217,343.96 216,343.52 215,343.44 214,344.99 213,345.03 212,343.97 211,343.53 210,344.89 209,343.38 208,344.98 207,344.49 206,345.17 205,343.93 204,345.22 203,343.13 202,344.16 201,345.34 200,345.26 199,343.3 198,343.47 197,345.32 196,344.93 195,344.18 194,343.26 193,345.22 192,344.25 191,343.68 190,343.35 189,344.21 188,343.89 187,344.49 186,343.21 185,345.18 184,344.54 183,344.32 182,343.04 181,343.39 180,344.11 179,345.12 178,343.97 177,344.97 176,344.02 175,345.16 174,343.01 173,343.49 172,344.75 171,343.47 170,343.87 169,345.39 168,345.07 167,344 166,343.86 165,344.36 164,343.75 163,345.29 162,343.74 161,343.68 160,343.98 159,344.67 158,343.39 157,343.22 156,344.53 155,344.32 154,343.95 153,343.24 152,343.15 151,344.32 150,344.91 149,343.49 148,343.75 147,343.44 146,344.63 145,343.79 144,343.03 143,343.49 142,344.56 141,344.44 140,343.61 139,343.49 138,343.34 137,343.88 136,343.52 135,344.49 134,344.43 133,343.25 132,345.27 131,344.87 130,343.62 129,344.08 128,345.08 127,343.89 126,345.23 125,344.4 124,345.34 123,343.45 122,343.29 121,343.7 120,343.1 119,345.19 118,345.02 117,344.97 116,344.14 115,343.25 114,345.38 113,344.57 112,344.94 111,343.56 110,344.22 109,345.38 108,343.95 107,343.78 106,344.39 105,345.12 104,343.37 103,343.59 102,343.59 101,343.48 100,344.77 99,343.9 98,344.36 97,343.71 96,345.02 95,343.29 94,344.59 93,345.03 92,344.8 91,344.62 90,344.49 89,344 88,343.56 87,344.07 86,344.7 85,344.2 84,343.23 83,343.2 82,343.64 81,345.37 80,345.12 79,345.35 78,343.78 77,344.33 76,343.08 75,343.16" fill="#464646"/>
<line x1="210.5" y1="326.2" x2="210.5" y2="336" stroke="#464646" stroke-width="1.3"/>
<line x1="69" y1="339.2" x2="231" y2="339.2" stroke="#e3161e" stroke-width="3.4" stroke-dasharray="12.7 12.2"/>
<polyline points="73.4,418.6 73.4,418.71 74.7,411.16 76,405.2 77.3,399.99 78.6,396.2 79.9,393.22 81.2,390.51 82.5,388.72 83.8,386.84 85.1,385.51 86.4,383.99 87.7,383.78 89,382.95 90.3,382.11 91.6,382.24 92.9,381.9 94.2,381.26 95.5,380.72 96.8,380.85 98.1,380.3 99.4,380.2 100.7,380.43 102,379.98 103.3,380.3 104.6,380.32 105.9,379.77 107.2,380.39 108.5,379.75 109.8,380.45 111.1,380.48 112.4,380.17 113.7,379.66 115,380.14 116.3,380 117.6,380.62 118.9,379.72 120.2,380.51 121.5,380.66 122.8,380.37 124.1,380.45 125.4,379.77 126.7,380.64 128,380.1 129.3,380.61 130.6,380.56 131.9,379.73 133.2,380.42 134.5,380.58 135.8,379.62 137.1,379.94 138.4,380.38 139.7,379.73 141,380.54 142.3,379.85 143.6,380.45 144.9,379.71 146.2,380.1 147.5,380.56 148.8,379.78 150.1,379.84 151.4,380.11 152.7,379.9 154,379.59 155.3,379.75 156.6,379.73 157.9,380.58 159.2,380.3 160.5,380.53 161.8,379.74 163.1,380.41 164.4,379.68 165.7,380.13 167,380.25 168.3,379.95 169.6,380.51 170.9,380.16 172.2,380.19 173.5,380.52 174.8,379.67 176.1,380.64 177.4,380.24 178.7,379.98 180,380.43 181.3,379.84 182.6,380.64 183.9,380.19 185.2,379.95 186.5,380.39 187.8,380.04 189.1,379.74 190.4,380.37 191.7,379.6 193,380.45 194.3,379.83 195.6,380.25 196.9,380.63 198.2,380.19 199.5,380.28 200.8,379.89 202.1,379.55 203.4,379.59 204.7,379.71 206,380.23 207.3,380.03 208.6,380.11 209.9,380.54 211.2,379.7 212.5,379.8 213.8,380.27 215.1,379.57 216.4,379.55 217.7,379.94 219,379.67 220.3,379.94 221.6,379.8 222.9,380.19 224.2,380.2 225.5,379.77 226.8,380.24 228.1,380.07 229.4,379.7 230.7,380.58" fill="none" stroke="#8a8a8a" stroke-width="2" stroke-linejoin="round"/>
<polyline points="73.4,418.6 73.4,418.32 74.7,413.15 76,409.01 77.3,406.33 78.6,403.94 79.9,401.71 81.2,399.58 82.5,398.05 83.8,396.66 85.1,396.46 86.4,395.65 87.7,394.83 89,394.69 90.3,394.09 91.6,394.33 92.9,393.87 94.2,393.14 95.5,393.7 96.8,392.62 98.1,393.06 99.4,392.84 100.7,392.59 102,392.34 103.3,393.08 104.6,392.21 105.9,392.77 107.2,393.18 108.5,392.28 109.8,392.33 111.1,392.77 112.4,392.65 113.7,392.79 115,392.97 116.3,392.26 117.6,392.41 118.9,392.39 120.2,392.11 121.5,393.04 122.8,392.92 124.1,392.84 125.4,392.06 126.7,392.98 128,392.87 129.3,392.56 130.6,392.87 131.9,392.55 133.2,392.3 134.5,392.17 135.8,392.31 137.1,392.09 138.4,392.42 139.7,392.88 141,392.81 142.3,392.98 143.6,392.83 144.9,392.34 146.2,392.66 147.5,392.53 148.8,392.92 150.1,392.63 151.4,392.34 152.7,392.76 154,393.11 155.3,392.29 156.6,393.02 157.9,392.07 159.2,392.34 160.5,392.31 161.8,392.87 163.1,393.09 164.4,392.87 165.7,392.41 167,393.02 168.3,392.41 169.6,392.31 170.9,393.05 172.2,392.74 173.5,392.81 174.8,392.78 176.1,393.13 177.4,392.57 178.7,392.97 180,392.82 181.3,392.99 182.6,392.53 183.9,392.85 185.2,392.68 186.5,392.39 187.8,392.28 189.1,392.73 190.4,392.14 191.7,393.05 193,392.21 194.3,392.08 195.6,392.17 196.9,393.07 198.2,392.43 199.5,392.21 200.8,392.08 202.1,392.1 203.4,392.81 204.7,392.75 206,392.82 207.3,392.86 208.6,392.12 209.9,392.7 211.2,392.45 212.5,392.95 213.8,392.95 215.1,393.03 216.4,392.12 217.7,393 219,393.06 220.3,393.09 221.6,392.17 222.9,392.28 224.2,392.17 225.5,392.09 226.8,392.98 228.1,392.94 229.4,392.75 230.7,392.96" fill="none" stroke="#8a8a8a" stroke-width="2" stroke-linejoin="round"/>
<polyline points="73.4,418.6 73.4,418.74 74.7,415.25 76,412.53 77.3,410.51 78.6,409.61 79.9,407.69 81.2,406.76 82.5,406.03 83.8,404.9 85.1,404.61 86.4,404.19 87.7,404.31 89,403.64 90.3,403.36 91.6,403.88 92.9,403.22 94.2,403.49 95.5,403.13 96.8,402.41 98.1,402.76 99.4,402.74 100.7,403.07 102,402.57 103.3,402.93 104.6,402.73 105.9,402.36 107.2,403.06 108.5,402.2 109.8,402.99 111.1,402.27 112.4,402.08 113.7,402.29 115,402.9 116.3,403.14 117.6,402.06 118.9,402.6 120.2,402.6 121.5,402.93 122.8,402.26 124.1,402.6 125.4,402.43 126.7,402.97 128,402.34 129.3,403.09 130.6,402.36 131.9,402.29 133.2,402.82 134.5,402.6 135.8,402.17 137.1,402.75 138.4,402.14 139.7,402.92 141,402.82 142.3,402.92 143.6,402.74 144.9,402.44 146.2,402.49 147.5,402.48 148.8,403.03 150.1,402.14 151.4,403.03 152.7,402.08 154,402.28 155.3,402.34 156.6,403.04 157.9,402.6 159.2,402.47 160.5,403.02 161.8,402.31 163.1,402.56 164.4,402.63 165.7,402.88 167,402.88 168.3,402.76 169.6,402.43 170.9,402.41 172.2,402.22 173.5,402.98 174.8,402.78 176.1,402.87 177.4,402.24 178.7,402.53 180,402.9 181.3,402.69 182.6,402.19 183.9,402.56 185.2,403.02 186.5,402.31 187.8,402.26 189.1,402.38 190.4,402.82 191.7,402.98 193,402.22 194.3,402.22 195.6,402.32 196.9,402.41 198.2,402.62 199.5,402.23 200.8,402.41 202.1,402.26 203.4,403.12 204.7,402.85 206,402.16 207.3,403.11 208.6,402.16 209.9,402.47 211.2,403.13 212.5,402.92 213.8,402.86 215.1,402.53 216.4,402.27 217.7,402.75 219,402.17 220.3,402.28 221.6,402.48 222.9,402.09 224.2,402.49 225.5,402.92 226.8,402.81 228.1,402.6 229.4,402.75 230.7,402.56" fill="none" stroke="#8a8a8a" stroke-width="2" stroke-linejoin="round"/>
<polyline points="73.4,418.6 73.4,418.21 74.7,416.81 76,415.05 77.3,414.18 78.6,413.37 79.9,412.04 81.2,411.55 82.5,411.22 83.8,410.44 85.1,409.9 86.4,410.17 87.7,410.12 89,409.83 90.3,409.61 91.6,409.66 92.9,409.38 94.2,409.26 95.5,409 96.8,408.79 98.1,409.1 99.4,408.49 100.7,408.82 102,409.19 103.3,409.1 104.6,409 105.9,408.57 107.2,408.75 108.5,408.78 109.8,408.96 111.1,408.72 112.4,409.01 113.7,409.29 115,408.46 116.3,408.98 117.6,409.11 118.9,408.68 120.2,408.79 121.5,409.33 122.8,408.29 124.1,408.85 125.4,408.43 126.7,409.11 128,409.29 129.3,408.82 130.6,408.36 131.9,408.88 133.2,408.85 134.5,409.04 135.8,408.81 137.1,408.95 138.4,409.16 139.7,408.82 141,408.7 142.3,409.29 143.6,408.48 144.9,409 146.2,408.68 147.5,409.09 148.8,408.38 150.1,409.33 151.4,408.64 152.7,408.31 154,408.55 155.3,408.69 156.6,408.26 157.9,408.71 159.2,408.71 160.5,409.02 161.8,408.64 163.1,408.54 164.4,408.5 165.7,409.07 167,409.28 168.3,408.83 169.6,408.49 170.9,409.13 172.2,408.68 173.5,408.48 174.8,408.39 176.1,409.1 177.4,409.14 178.7,408.95 180,408.77 181.3,408.87 182.6,408.5 183.9,409.31 185.2,408.64 186.5,408.95 187.8,409.15 189.1,409.15 190.4,408.76 191.7,408.57 193,408.85 194.3,408.39 195.6,409.17 196.9,408.64 198.2,409.19 199.5,408.54 200.8,408.66 202.1,408.53 203.4,408.72 204.7,408.45 206,408.25 207.3,409.04 208.6,408.56 209.9,408.52 211.2,408.58 212.5,408.78 213.8,408.72 215.1,408.95 216.4,408.98 217.7,408.65 219,409.27 220.3,409.19 221.6,408.31 222.9,409.16 224.2,409.25 225.5,409.11 226.8,408.4 228.1,409.16 229.4,408.95 230.7,408.27" fill="none" stroke="#8a8a8a" stroke-width="2" stroke-linejoin="round"/>
<polyline points="73.4,418.6 73.4,418.06 74.7,417.93 76,416.66 77.3,415.46 78.6,414.68 79.9,414.24 81.2,413.94 82.5,414.22 83.8,413.49 85.1,413.07 86.4,413.73 87.7,413.47 89,412.68 90.3,413.39 91.6,413.01 92.9,413.14 94.2,412.97 95.5,413.18 96.8,413.04 98.1,413.07 99.4,412.35 100.7,412.88 102,412.68 103.3,412.91 104.6,412.57 105.9,413.05 107.2,412.68 108.5,412.36 109.8,412.32 111.1,412.21 112.4,412.6 113.7,412.12 115,412.57 116.3,412.21 117.6,412.59 118.9,412.6 120.2,412.65 121.5,413 122.8,412.06 124.1,412.98 125.4,412.57 126.7,412.67 128,412.78 129.3,412.98 130.6,412.46 131.9,412.51 133.2,413.11 134.5,412.13 135.8,412.75 137.1,412.75 138.4,412.08 139.7,412.72 141,412.8 142.3,413.07 143.6,412.41 144.9,413.13 146.2,412.61 147.5,412.58 148.8,413.04 150.1,412.09 151.4,412.84 152.7,412.74 154,412.42 155.3,413 156.6,412.45 157.9,412.57 159.2,412.63 160.5,412.9 161.8,412.28 163.1,412.53 164.4,412.51 165.7,412.66 167,412.96 168.3,412.37 169.6,412.96 170.9,412.49 172.2,412.6 173.5,412.35 174.8,412.61 176.1,413.12 177.4,412.77 178.7,412.92 180,412.41 181.3,412.4 182.6,412.38 183.9,412.7 185.2,412.75 186.5,412.91 187.8,412.09 189.1,412.84 190.4,413.02 191.7,412.65 193,412.1 194.3,412.38 195.6,412.06 196.9,412.26 198.2,413.06 199.5,412.72 200.8,412.77 202.1,412.92 203.4,413.05 204.7,412.72 206,412.73 207.3,412.74 208.6,412.82 209.9,412.71 211.2,412.8 212.5,412.28 213.8,412.78 215.1,412.55 216.4,412.89 217.7,412.16 219,412.25 220.3,412.09 221.6,412.9 222.9,413.06 224.2,412.77 225.5,412.46 226.8,412.95 228.1,412.92 229.4,412.67 230.7,412.33" fill="none" stroke="#8a8a8a" stroke-width="2" stroke-linejoin="round"/>
<polyline points="73.4,418.6 73.4,418.38 74.7,417.73 76,416.99 77.3,416.61 78.6,416.44 79.9,416.43 81.2,415.2 82.5,415.55 83.8,414.8 85.1,414.75 86.4,415.4 87.7,415.05 89,415.36 90.3,414.78 91.6,414.26 92.9,414.63 94.2,414.83 95.5,415.18 96.8,415.21 98.1,414.64 99.4,414.56 100.7,414.2 102,414.79 103.3,414.31 104.6,414.24 105.9,414.08 107.2,414.07 108.5,414.81 109.8,414.19 111.1,415.12 112.4,414.15 113.7,415.01 115,414.2 116.3,414.07 117.6,414.84 118.9,414.32 120.2,414.86 121.5,414.26 122.8,414.11 124.1,414.9 125.4,414.84 126.7,414.99 128,414.85 129.3,414.14 130.6,414.74 131.9,414.83 133.2,414.56 134.5,415.08 135.8,414.33 137.1,415.11 138.4,414.84 139.7,414.06 141,414.07 142.3,414.77 143.6,414.95 144.9,414.14 146.2,414.39 147.5,414.85 148.8,414.23 150.1,415 151.4,414.58 152.7,414.12 154,414.45 155.3,414.68 156.6,414.53 157.9,414.79 159.2,414.21 160.5,414.93 161.8,414.45 163.1,414.76 164.4,414.74 165.7,414.51 167,414.47 168.3,414.91 169.6,415.09 170.9,414.91 172.2,414.67 173.5,414.37 174.8,414.12 176.1,415.12 177.4,414.82 178.7,414.96 180,414.42 181.3,414.72 182.6,415.13 183.9,414.96 185.2,414.71 186.5,414.39 187.8,414.52 189.1,415.03 190.4,414.46 191.7,414.8 193,414.71 194.3,415.04 195.6,414.94 196.9,414.36 198.2,414.05 199.5,414.34 200.8,414.51 202.1,414.7 203.4,414.95 204.7,415.03 206,414.1 207.3,414.97 208.6,414.94 209.9,415 211.2,414.68 212.5,414.35 213.8,414.99 215.1,414.94 216.4,414.8 217.7,415.06 219,414.43 220.3,414.14 221.6,414.66 222.9,414.93 224.2,414.27 225.5,414.88 226.8,415.07 228.1,414.31 229.4,414.72 230.7,414.8" fill="none" stroke="#8a8a8a" stroke-width="2" stroke-linejoin="round"/>
<polygon points="73.4,415.47 74.9,415.21 76.4,415.25 77.9,415.75 79.4,415.79 80.9,415.46 82.4,415.09 83.9,415.81 85.4,415.77 86.9,415.23 88.4,415.58 89.9,415.9 91.4,415.89 92.9,415.52 94.4,415.48 95.9,415.59 97.4,415.19 98.9,415.19 100.4,415.18 101.9,415.7 103.4,415.36 104.9,415.56 106.4,415.4 107.9,415.52 109.4,415.15 110.9,415.04 112.4,416 113.9,415.37 115.4,415.11 116.9,415.63 118.4,415.79 119.9,415.16 121.4,415.6 122.9,415.34 124.4,415.52 125.9,415.02 127.4,415.03 128.9,415.99 130.4,415.87 131.9,415.49 133.4,415.57 134.9,415.26 136.4,415.78 137.9,415.43 139.4,415.95 140.9,415.77 142.4,415.82 143.9,415.96 145.4,415.25 146.9,415.04 148.4,415.2 149.9,415.18 151.4,415.08 152.9,415.05 154.4,415.56 155.9,415.87 157.4,415.46 158.9,415.95 160.4,415.91 161.9,415.06 163.4,415.6 164.9,415.4 166.4,415.12 167.9,415.96 169.4,415.26 170.9,415.56 172.4,415.64 173.9,415.96 175.4,415.67 176.9,415.39 178.4,415.45 179.9,415.16 181.4,415.97 182.9,415.99 184.4,415.22 185.9,415.04 187.4,415.26 188.9,415.35 190.4,415.9 191.9,415.9 193.4,415.84 194.9,415.05 196.4,415.79 197.9,415.71 199.4,415.65 200.9,415.99 202.4,415.06 203.9,415.14 205.4,415.75 206.9,415.94 208.4,415.68 209.9,415.3 211.4,415.59 212.9,415.76 214.4,415.11 215.9,415.32 217.4,415.26 218.9,415.12 220.4,415.48 221.9,415.17 223.4,415.24 224.9,415.14 226.4,415.68 227.9,415.01 229.4,415.72 229.4,420.58 227.9,420.4 226.4,420.23 224.9,420.39 223.4,420.77 221.9,420.25 220.4,420.31 218.9,420.8 217.4,420.48 215.9,420.83 214.4,420.11 212.9,420.49 211.4,420.79 209.9,420.77 208.4,420.37 206.9,420.75 205.4,420.14 203.9,420.68 202.4,420.43 200.9,420.69 199.4,420.15 197.9,420.26 196.4,420.57 194.9,420.75 193.4,420.67 191.9,420.59 190.4,420.26 188.9,420.32 187.4,420.5 185.9,420.59 184.4,420.17 182.9,420.16 181.4,420.26 179.9,420.67 178.4,420.72 176.9,420.24 175.4,420.21 173.9,420.56 172.4,420.27 170.9,420.83 169.4,420.45 167.9,420.25 166.4,420.52 164.9,420.77 163.4,420.1 161.9,420.21 160.4,420.37 158.9,420.75 157.4,420.11 155.9,420.88 154.4,420.33 152.9,420.68 151.4,420.15 149.9,420.82 148.4,420.33 146.9,420.18 145.4,420.84 143.9,420.9 142.4,420.89 140.9,420.39 139.4,420.26 137.9,420.31 136.4,420.33 134.9,420.48 133.4,420.27 131.9,420.63 130.4,420.82 128.9,420.15 127.4,420.88 125.9,420.19 124.4,420.82 122.9,420.35 121.4,420.49 119.9,420.23 118.4,420.37 116.9,420.77 115.4,420.32 113.9,420.22 112.4,420.43 110.9,420.31 109.4,420.8 107.9,420.22 106.4,420.54 104.9,420.67 103.4,420.15 101.9,420.28 100.4,420.21 98.9,420.6 97.4,420.48 95.9,420.76 94.4,420.37 92.9,420.46 91.4,420.6 89.9,420.77 88.4,420.84 86.9,420.18 85.4,420.46 83.9,420.21 82.4,420.81 80.9,420.79 79.4,420.85 77.9,420.28 76.4,420.84 74.9,420.13 73.4,420.26" fill="#8a8a8a"/>
<line x1="73.6" y1="414" x2="73.6" y2="421.5" stroke="#8a8a8a" stroke-width="2"/>
<line x1="230.9" y1="379.5" x2="230.9" y2="428.4" stroke="#8a8a8a" stroke-width="1.6"/>
<polyline points="231,421 236,420.2 245,419.4" fill="none" stroke="#8a8a8a" stroke-width="1.2" stroke-linejoin="round"/>
<line x1="59" y1="418.6" x2="248" y2="418.6" stroke="#e3161e" stroke-width="3.3" stroke-dasharray="13 12"/>
<polygon points="75.4,701.61 76.4,702.74 77.4,702.58 78.4,702.73 79.4,701.87 80.4,703.17 81.4,703.4 82.4,703.5 83.4,702.31 84.4,703.16 85.4,702.44 86.4,703.25 87.4,701.73 88.4,703.52 89.4,703.7 90.4,702.69 91.4,702.73 92.4,702.77 93.4,702.78 94.4,701.65 95.4,703.73 96.4,702.09 97.4,702 98.4,701.83 99.4,702.15 100.4,703.4 101.4,701.67 102.4,701.81 103.4,703.14 104.4,702.03 105.4,701.64 106.4,702.92 107.4,702.87 108.4,702.75 109.4,703.15 110.4,701.83 111.4,703.51 112.4,703.18 113.4,701.7 114.4,701.87 115.4,702.69 116.4,702.7 117.4,702.22 118.4,701.87 119.4,702.49 120.4,701.9 121.4,702.9 122.4,703.49 123.4,701.92 124.4,702.86 125.4,703.24 126.4,701.96 127.4,703.42 128.4,703.66 129.4,702.46 130.4,702.53 131.4,703.45 132.4,702.76 133.4,702.47 134.4,703.67 135.4,703.31 136.4,702.34 137.4,702.13 138.4,702.34 139.4,702.56 140.4,703.76 141.4,703.37 142.4,703.61 143.4,703.39 144.4,703.46 145.4,701.72 146.4,702.74 147.4,703.71 148.4,703.66 149.4,702.15 150.4,702.53 151.4,702.99 152.4,702.4 153.4,702.77 154.4,701.75 155.4,702.55 156.4,702.71 157.4,701.65 158.4,701.91 159.4,703.73 160.4,703.31 161.4,703.66 162.4,702.99 163.4,703.38 164.4,703.55 165.4,703.55 166.4,701.68 167.4,703.01 168.4,702.18 169.4,703.09 170.4,702.2 171.4,702.79 172.4,703.63 173.4,702.97 174.4,702.15 175.4,702.74 176.4,702.55 177.4,703.69 178.4,702.23 179.4,702.27 180.4,703.02 181.4,701.86 182.4,702.91 183.4,703.7 184.4,702.73 185.4,702.19 186.4,702.63 187.4,702.77 188.4,701.93 189.4,701.87 190.4,701.89 191.4,702.25 192.4,702.49 193.4,702.23 194.4,702.14 195.4,701.79 196.4,702.8 197.4,703.45 198.4,702.94 199.4,702.85 200.4,703.03 201.4,702.04 202.4,703.16 203.4,702.61 204.4,702.81 205.4,702.95 206.4,702.63 207.4,702.28 208.4,702.13 209.4,702.09 210.4,702.73 211.4,702.44 212.4,702.89 213.4,701.63 214.4,702.38 215.4,703.5 216.4,702.12 217.4,702.82 218.4,702.68 219.4,702.23 220.4,703.77 221.4,702.25 222.4,703.3 223.4,701.95 224.4,701.75 225.4,703.52 226.4,702.57 227.4,701.74 228.4,702.45 229.4,702.57 230.4,703.22 231.4,701.84 232.4,702.1 233.4,703.71 234.4,703.23 234.4,708.3 233.4,708.75 232.4,709.56 231.4,709.17 230.4,710.31 229.4,709.48 228.4,710.16 227.4,708.32 226.4,709.05 225.4,709.19 224.4,708.97 223.4,709.48 222.4,710.19 221.4,708.42 220.4,708.79 219.4,708.57 218.4,708.98 217.4,709.77 216.4,708.91 215.4,709.9 214.4,708.23 213.4,708.34 212.4,709.97 211.4,709.55 210.4,710.01 209.4,709.35 208.4,708.58 207.4,708.42 206.4,708.43 205.4,709.87 204.4,708.54 203.4,708.47 202.4,709.1 201.4,709.46 200.4,710.39 199.4,709.37 198.4,709.62 197.4,708.79 196.4,709.42 195.4,709.3 194.4,708.63 193.4,709.67 192.4,709.49 191.4,710.05 190.4,708.87 189.4,708.21 188.4,709.72 187.4,708.87 186.4,709.93 185.4,709.11 184.4,708.29 183.4,709.6 182.4,710.39 181.4,708.98 180.4,709.53 179.4,709.59 178.4,708.6 177.4,708.61 176.4,709.31 175.4,709.33 174.4,708.84 173.4,708.54 172.4,709.13 171.4,710.15 170.4,710.38 169.4,710.01 168.4,709.72 167.4,710.17 166.4,708.44 165.4,709.33 164.4,710.02 163.4,710.35 162.4,708.9 161.4,708.58 160.4,709.99 159.4,709.37 158.4,708.96 157.4,710.39 156.4,709.57 155.4,709.17 154.4,709.27 153.4,710.32 152.4,710.14 151.4,709.46 150.4,709.43 149.4,709.08 148.4,709.02 147.4,708.42 146.4,709.36 145.4,709.69 144.4,710.29 143.4,708.97 142.4,709.51 141.4,708.99 140.4,709.06 139.4,709.71 138.4,709.34 137.4,709.34 136.4,710.4 135.4,709.38 134.4,709.9 133.4,710.22 132.4,709.29 131.4,709.44 130.4,708.3 129.4,708.22 128.4,710.2 127.4,709.14 126.4,708.65 125.4,710.31 124.4,710.04 123.4,710.06 122.4,708.91 121.4,710.22 120.4,708.39 119.4,709.48 118.4,709.47 117.4,708.52 116.4,708.87 115.4,708.61 114.4,709.18 113.4,709.3 112.4,710.07 111.4,709.93 110.4,708.91 109.4,709.05 108.4,709.42 107.4,709.06 106.4,708.84 105.4,709.79 104.4,709.21 103.4,709.2 102.4,709.04 101.4,709.54 100.4,710.12 99.4,709.92 98.4,709.12 97.4,709.46 96.4,710.32 95.4,709.3 94.4,709.49 93.4,709.88 92.4,708.21 91.4,710.12 90.4,708.48 89.4,710.21 88.4,709.76 87.4,709.93 86.4,709.25 85.4,709.87 84.4,709.84 83.4,709.83 82.4,709.34 81.4,710.01 80.4,710.07 79.4,709.56 78.4,709.69 77.4,708.98 76.4,708.94 75.4,708.54" fill="#000"/>
<line x1="213" y1="696.6" x2="213" y2="706" stroke="#000" stroke-width="1.2"/>
<line x1="74.1" y1="706" x2="235.7" y2="706" stroke="#e3161e" stroke-width="3.4" stroke-dasharray="12.4 12.1" stroke-linecap="butt"/>
<polygon points="77.4,762.05 78.4,761.88 79.4,760.69 80.4,761.98 81.4,761.79 82.4,760.67 83.4,761.33 84.4,762.11 85.4,761.09 86.4,762.09 87.4,760.53 88.4,760.86 89.4,761.58 90.4,760.49 91.4,760.68 92.4,761.93 93.4,761.07 94.4,761.74 95.4,760.54 96.4,760.38 97.4,760.79 98.4,760.41 99.4,762.14 100.4,760.64 101.4,761.24 102.4,760.25 103.4,761.17 104.4,760.85 105.4,760.89 106.4,760.14 107.4,760.27 108.4,761.82 109.4,760.77 110.4,760.54 111.4,760.42 112.4,760.62 113.4,760.52 114.4,760.08 115.4,761.46 116.4,760.75 117.4,760.34 118.4,761.55 119.4,760.2 120.4,760.59 121.4,761.84 122.4,760.28 123.4,760.98 124.4,761.84 125.4,761.77 126.4,760.35 127.4,760.78 128.4,761.59 129.4,760.83 130.4,762.11 131.4,760.46 132.4,762.09 133.4,761.11 134.4,760.5 135.4,761 136.4,760.29 137.4,761.55 138.4,760.57 139.4,761.98 140.4,761.29 141.4,760.81 142.4,760.54 143.4,761.34 144.4,760.47 145.4,761.92 146.4,760.27 147.4,761.13 148.4,761.19 149.4,760.59 150.4,761.7 151.4,760.85 152.4,761.45 153.4,761.25 154.4,760.68 155.4,760.86 156.4,760.19 157.4,760.39 158.4,761.87 159.4,760.71 160.4,761.46 161.4,760.24 162.4,761.24 163.4,760.8 164.4,761.1 165.4,760.65 166.4,760.15 167.4,760.68 168.4,760.5 169.4,760.28 170.4,761.58 171.4,760.62 172.4,760.89 173.4,762 174.4,761.7 175.4,761.94 176.4,761.89 177.4,760.29 178.4,760.61 179.4,760.07 180.4,761.5 181.4,761.46 182.4,760.77 183.4,760.91 184.4,761.45 185.4,761.54 186.4,760.55 187.4,761.86 188.4,760.77 189.4,761.38 190.4,760.4 191.4,760.25 192.4,762.01 193.4,761.61 194.4,761.57 195.4,760.09 196.4,760.09 197.4,760.36 198.4,760.44 199.4,760.67 200.4,760.84 201.4,760.09 202.4,760.68 203.4,761.4 204.4,760.4 205.4,761.85 206.4,761.25 207.4,761.58 208.4,760.56 209.4,760.96 210.4,761.51 211.4,760.77 212.4,760 213.4,761.84 214.4,761.71 215.4,760.63 216.4,760.09 217.4,761.88 218.4,761.34 219.4,760.1 220.4,760.54 221.4,760.24 222.4,761.74 223.4,760.46 224.4,762.01 225.4,761.65 226.4,760.19 227.4,761.53 228.4,760.87 229.4,761.64 230.4,761.82 231.4,760.62 231.4,767.61 230.4,767.31 229.4,766.79 228.4,767.03 227.4,767.37 226.4,767.84 225.4,767.57 224.4,767.25 223.4,766.96 222.4,768.59 221.4,768.42 220.4,768.07 219.4,767.57 218.4,767.35 217.4,767.53 216.4,767.73 215.4,768.06 214.4,767.22 213.4,767.54 212.4,768.33 211.4,768.48 210.4,768.45 209.4,766.61 208.4,768.19 207.4,767.02 206.4,767.57 205.4,766.69 204.4,766.8 203.4,768.73 202.4,767.58 201.4,766.96 200.4,768.11 199.4,766.78 198.4,767.88 197.4,767.26 196.4,766.95 195.4,767.7 194.4,767.69 193.4,768.68 192.4,768.59 191.4,768.15 190.4,768.4 189.4,767.98 188.4,767.85 187.4,766.69 186.4,767.13 185.4,768.43 184.4,767.41 183.4,767.81 182.4,767.41 181.4,767.3 180.4,768.42 179.4,767.01 178.4,767.32 177.4,768.23 176.4,768.43 175.4,768.33 174.4,766.97 173.4,768.64 172.4,768.46 171.4,768 170.4,767.01 169.4,767.25 168.4,768.45 167.4,768.3 166.4,766.66 165.4,766.91 164.4,767.14 163.4,767.15 162.4,768.04 161.4,768.66 160.4,767.98 159.4,768.02 158.4,768.62 157.4,766.62 156.4,767.79 155.4,767.02 154.4,767.56 153.4,767.68 152.4,766.84 151.4,767.84 150.4,768.76 149.4,768.18 148.4,766.78 147.4,768.25 146.4,768.78 145.4,766.62 144.4,766.76 143.4,766.97 142.4,767.4 141.4,767.63 140.4,767.31 139.4,766.85 138.4,767.59 137.4,768.14 136.4,767.03 135.4,767.22 134.4,766.73 133.4,767.05 132.4,767.39 131.4,767.24 130.4,766.85 129.4,768.43 128.4,768.29 127.4,767.61 126.4,767.92 125.4,768.07 124.4,766.97 123.4,768.27 122.4,767.81 121.4,768.39 120.4,767.33 119.4,767.84 118.4,766.91 117.4,768.55 116.4,767.26 115.4,767.37 114.4,768.66 113.4,767.58 112.4,767.73 111.4,767.13 110.4,767.12 109.4,768.07 108.4,768.16 107.4,766.9 106.4,767.28 105.4,767.04 104.4,767.51 103.4,767.39 102.4,766.73 101.4,767.15 100.4,767.8 99.4,768 98.4,768.73 97.4,767.8 96.4,767.17 95.4,768.37 94.4,768.15 93.4,766.7 92.4,768.28 91.4,766.88 90.4,768.64 89.4,767.73 88.4,767.54 87.4,768.14 86.4,766.72 85.4,767.6 84.4,767.98 83.4,768.43 82.4,768.22 81.4,768.12 80.4,768.65 79.4,767.53 78.4,768.68 77.4,766.8" fill="#000"/>
<line x1="71.5" y1="764.4" x2="233.2" y2="764.4" stroke="#e3161e" stroke-width="3.4" stroke-dasharray="12.4 12.1" stroke-linecap="butt"/>
<line x1="71.5" y1="764.4" x2="83.2" y2="764.4" stroke="#e3161e" stroke-width="3.4"/>
<line x1="367.6" y1="32.3" x2="367.6" y2="106.3" stroke="#000" stroke-width="3.4"/>
<line x1="359.6" y1="33.5" x2="369.1" y2="33.5" stroke="#000" stroke-width="2.6"/>
<text x="327.48" y="37.1" font-size="14.2" font-weight="bold" fill="#000" textLength="27.64" lengthAdjust="spacingAndGlyphs">0.03</text>
<line x1="359.6" y1="57.3" x2="369.1" y2="57.3" stroke="#000" stroke-width="2.6"/>
<text x="327.53" y="60.9" font-size="14.2" font-weight="bold" fill="#000" textLength="27.64" lengthAdjust="spacingAndGlyphs">0.02</text>
<line x1="359.6" y1="81.3" x2="369.1" y2="81.3" stroke="#000" stroke-width="2.6"/>
<text x="327.36" y="84.9" font-size="14.2" font-weight="bold" fill="#000" textLength="27.64" lengthAdjust="spacingAndGlyphs">0.01</text>
<line x1="359.6" y1="105.1" x2="369.1" y2="105.1" stroke="#000" stroke-width="2.6"/>
<text x="327.55" y="108.7" font-size="14.2" font-weight="bold" fill="#000" textLength="27.64" lengthAdjust="spacingAndGlyphs">0.00</text>
<line x1="363.1" y1="45.4" x2="369.1" y2="45.4" stroke="#000" stroke-width="2.6"/>
<line x1="363.1" y1="69.3" x2="369.1" y2="69.3" stroke="#000" stroke-width="2.6"/>
<line x1="363.1" y1="93.3" x2="369.1" y2="93.3" stroke="#000" stroke-width="2.6"/>
<line x1="374" y1="108.6" x2="589.8" y2="108.6" stroke="#000" stroke-width="3"/>
<line x1="375" y1="107.4" x2="375" y2="115.6" stroke="#000" stroke-width="2.6"/>
<line x1="389.23" y1="107.4" x2="389.23" y2="112.6" stroke="#000" stroke-width="2.6"/>
<line x1="403.47" y1="107.4" x2="403.47" y2="112.6" stroke="#000" stroke-width="2.6"/>
<line x1="417.7" y1="107.4" x2="417.7" y2="115.6" stroke="#000" stroke-width="2.6"/>
<line x1="431.94" y1="107.4" x2="431.94" y2="112.6" stroke="#000" stroke-width="2.6"/>
<line x1="446.17" y1="107.4" x2="446.17" y2="112.6" stroke="#000" stroke-width="2.6"/>
<line x1="460.4" y1="107.4" x2="460.4" y2="115.6" stroke="#000" stroke-width="2.6"/>
<line x1="474.64" y1="107.4" x2="474.64" y2="112.6" stroke="#000" stroke-width="2.6"/>
<line x1="488.87" y1="107.4" x2="488.87" y2="112.6" stroke="#000" stroke-width="2.6"/>
<line x1="503.11" y1="107.4" x2="503.11" y2="115.6" stroke="#000" stroke-width="2.6"/>
<line x1="517.34" y1="107.4" x2="517.34" y2="112.6" stroke="#000" stroke-width="2.6"/>
<line x1="531.57" y1="107.4" x2="531.57" y2="112.6" stroke="#000" stroke-width="2.6"/>
<line x1="545.81" y1="107.4" x2="545.81" y2="115.6" stroke="#000" stroke-width="2.6"/>
<line x1="560.04" y1="107.4" x2="560.04" y2="112.6" stroke="#000" stroke-width="2.6"/>
<line x1="574.28" y1="107.4" x2="574.28" y2="112.6" stroke="#000" stroke-width="2.6"/>
<line x1="588.51" y1="107.4" x2="588.51" y2="115.6" stroke="#000" stroke-width="2.6"/>
<polyline points="389.23,107.1 403.47,105.6 417.7,103.8 431.94,103.5 446.17,103.3 460.4,102.8 474.64,102.5 488.87,101.5 503.11,99.8 517.34,98.1 531.57,94.3 545.81,87.8 560.04,73.5 574.28,53.2" fill="none" stroke="#1b7cc0" stroke-width="1.6" stroke-linejoin="round" stroke-dasharray="4 3"/>
<line x1="574.28" y1="45.8" x2="574.28" y2="61.5" stroke="#1b7cc0" stroke-width="1.6"/>
<line x1="571.28" y1="45.8" x2="577.28" y2="45.8" stroke="#1b7cc0" stroke-width="1.6"/>
<line x1="571.28" y1="61.5" x2="577.28" y2="61.5" stroke="#1b7cc0" stroke-width="1.6"/>
<circle cx="389.23" cy="107.1" r="6.8" fill="#1b7cc2"/>
<ellipse cx="386.51" cy="104.24" rx="2.72" ry="2.45" fill="url(#hl_gBlue)"/>
<circle cx="403.47" cy="105.6" r="6.8" fill="#1b7cc2"/>
<ellipse cx="400.75" cy="102.74" rx="2.72" ry="2.45" fill="url(#hl_gBlue)"/>
<circle cx="417.7" cy="103.8" r="6.8" fill="#1b7cc2"/>
<ellipse cx="414.98" cy="100.94" rx="2.72" ry="2.45" fill="url(#hl_gBlue)"/>
<circle cx="431.94" cy="103.5" r="6.8" fill="#1b7cc2"/>
<ellipse cx="429.22" cy="100.64" rx="2.72" ry="2.45" fill="url(#hl_gBlue)"/>
<circle cx="446.17" cy="103.3" r="6.8" fill="#1b7cc2"/>
<ellipse cx="443.45" cy="100.44" rx="2.72" ry="2.45" fill="url(#hl_gBlue)"/>
<circle cx="460.4" cy="102.8" r="6.8" fill="#1b7cc2"/>
<ellipse cx="457.68" cy="99.94" rx="2.72" ry="2.45" fill="url(#hl_gBlue)"/>
<circle cx="474.64" cy="102.5" r="6.8" fill="#1b7cc2"/>
<ellipse cx="471.92" cy="99.64" rx="2.72" ry="2.45" fill="url(#hl_gBlue)"/>
<circle cx="488.87" cy="101.5" r="6.8" fill="#1b7cc2"/>
<ellipse cx="486.15" cy="98.64" rx="2.72" ry="2.45" fill="url(#hl_gBlue)"/>
<circle cx="503.11" cy="99.8" r="6.8" fill="#1b7cc2"/>
<ellipse cx="500.39" cy="96.94" rx="2.72" ry="2.45" fill="url(#hl_gBlue)"/>
<circle cx="517.34" cy="98.1" r="6.8" fill="#1b7cc2"/>
<ellipse cx="514.62" cy="95.24" rx="2.72" ry="2.45" fill="url(#hl_gBlue)"/>
<circle cx="531.57" cy="94.3" r="6.8" fill="#1b7cc2"/>
<ellipse cx="528.85" cy="91.44" rx="2.72" ry="2.45" fill="url(#hl_gBlue)"/>
<circle cx="545.81" cy="87.8" r="6.8" fill="#1b7cc2"/>
<ellipse cx="543.09" cy="84.94" rx="2.72" ry="2.45" fill="url(#hl_gBlue)"/>
<circle cx="560.04" cy="73.5" r="6.8" fill="#1b7cc2"/>
<ellipse cx="557.32" cy="70.64" rx="2.72" ry="2.45" fill="url(#hl_gBlue)"/>
<circle cx="574.28" cy="53.2" r="6.8" fill="#1b7cc2"/>
<ellipse cx="571.56" cy="50.34" rx="2.72" ry="2.45" fill="url(#hl_gBlue)"/>
<line x1="374" y1="108.6" x2="589.8" y2="108.6" stroke="#000" stroke-width="3"/>
<line x1="375" y1="107.4" x2="375" y2="115.6" stroke="#000" stroke-width="2.6"/>
<line x1="389.23" y1="107.4" x2="389.23" y2="112.6" stroke="#000" stroke-width="2.6"/>
<line x1="403.47" y1="107.4" x2="403.47" y2="112.6" stroke="#000" stroke-width="2.6"/>
<line x1="417.7" y1="107.4" x2="417.7" y2="115.6" stroke="#000" stroke-width="2.6"/>
<line x1="431.94" y1="107.4" x2="431.94" y2="112.6" stroke="#000" stroke-width="2.6"/>
<line x1="446.17" y1="107.4" x2="446.17" y2="112.6" stroke="#000" stroke-width="2.6"/>
<line x1="460.4" y1="107.4" x2="460.4" y2="115.6" stroke="#000" stroke-width="2.6"/>
<line x1="474.64" y1="107.4" x2="474.64" y2="112.6" stroke="#000" stroke-width="2.6"/>
<line x1="488.87" y1="107.4" x2="488.87" y2="112.6" stroke="#000" stroke-width="2.6"/>
<line x1="503.11" y1="107.4" x2="503.11" y2="115.6" stroke="#000" stroke-width="2.6"/>
<line x1="517.34" y1="107.4" x2="517.34" y2="112.6" stroke="#000" stroke-width="2.6"/>
<line x1="531.57" y1="107.4" x2="531.57" y2="112.6" stroke="#000" stroke-width="2.6"/>
<line x1="545.81" y1="107.4" x2="545.81" y2="115.6" stroke="#000" stroke-width="2.6"/>
<line x1="560.04" y1="107.4" x2="560.04" y2="112.6" stroke="#000" stroke-width="2.6"/>
<line x1="574.28" y1="107.4" x2="574.28" y2="112.6" stroke="#000" stroke-width="2.6"/>
<line x1="588.51" y1="107.4" x2="588.51" y2="115.6" stroke="#000" stroke-width="2.6"/>
<text x="360.1" y="132.5" font-size="13" font-weight="bold" fill="#000" textLength="28.62" lengthAdjust="spacingAndGlyphs">-120</text>
<text x="406.78" y="132.5" font-size="13" font-weight="bold" fill="#000" textLength="20.67" lengthAdjust="spacingAndGlyphs">-60</text>
<text x="455.84" y="132.5" font-size="13" font-weight="bold" fill="#000" textLength="7.95" lengthAdjust="spacingAndGlyphs">0</text>
<text x="494.58" y="132.5" font-size="13" font-weight="bold" fill="#000" textLength="15.91" lengthAdjust="spacingAndGlyphs">60</text>
<text x="533.12" y="132.5" font-size="13" font-weight="bold" fill="#000" textLength="23.86" lengthAdjust="spacingAndGlyphs">120</text>
<text x="575.82" y="132.5" font-size="13" font-weight="bold" fill="#000" textLength="23.86" lengthAdjust="spacingAndGlyphs">180</text>
<text x="432.57" y="151.9" font-size="17.6" font-weight="bold" fill="#000" textLength="75.35" lengthAdjust="spacingAndGlyphs">Vm (mV)</text>
<text transform="translate(318.3,134.41) rotate(-90)" font-size="17.6" font-weight="bold" fill="#000" textLength="5.01" lengthAdjust="spacingAndGlyphs">I</text>
<text transform="translate(324.3,129.31) rotate(-90)" font-size="12.5" font-weight="bold" fill="#000" textLength="35.08" lengthAdjust="spacingAndGlyphs">Cl,Vm</text>
<text transform="translate(318.5,88.57) rotate(-90)" font-size="17.6" font-weight="bold" fill="#000" textLength="61.14" lengthAdjust="spacingAndGlyphs">(nA/pF)</text>
<line x1="368.4" y1="167.4" x2="368.4" y2="241.4" stroke="#000" stroke-width="3.4"/>
<line x1="360.4" y1="168.6" x2="369.9" y2="168.6" stroke="#000" stroke-width="2.6"/>
<text x="334.94" y="172.2" font-size="14.2" font-weight="bold" fill="#000" textLength="19.74" lengthAdjust="spacingAndGlyphs">0.4</text>
<line x1="360.4" y1="186.5" x2="369.9" y2="186.5" stroke="#000" stroke-width="2.6"/>
<text x="335.37" y="190.1" font-size="14.2" font-weight="bold" fill="#000" textLength="19.74" lengthAdjust="spacingAndGlyphs">0.3</text>
<line x1="360.4" y1="204.4" x2="369.9" y2="204.4" stroke="#000" stroke-width="2.6"/>
<text x="335.43" y="208" font-size="14.2" font-weight="bold" fill="#000" textLength="19.74" lengthAdjust="spacingAndGlyphs">0.2</text>
<line x1="360.4" y1="222.3" x2="369.9" y2="222.3" stroke="#000" stroke-width="2.6"/>
<text x="335.26" y="225.9" font-size="14.2" font-weight="bold" fill="#000" textLength="19.74" lengthAdjust="spacingAndGlyphs">0.1</text>
<line x1="360.4" y1="240.2" x2="369.9" y2="240.2" stroke="#000" stroke-width="2.6"/>
<text x="335.44" y="243.8" font-size="14.2" font-weight="bold" fill="#000" textLength="19.74" lengthAdjust="spacingAndGlyphs">0.0</text>
<line x1="363.9" y1="177.5" x2="369.9" y2="177.5" stroke="#000" stroke-width="2.6"/>
<line x1="363.9" y1="195.4" x2="369.9" y2="195.4" stroke="#000" stroke-width="2.6"/>
<line x1="363.9" y1="213.3" x2="369.9" y2="213.3" stroke="#000" stroke-width="2.6"/>
<line x1="363.9" y1="231.2" x2="369.9" y2="231.2" stroke="#000" stroke-width="2.6"/>
<line x1="374" y1="243.9" x2="589.8" y2="243.9" stroke="#000" stroke-width="3"/>
<line x1="375" y1="242.7" x2="375" y2="250.9" stroke="#000" stroke-width="2.6"/>
<line x1="389.23" y1="242.7" x2="389.23" y2="247.9" stroke="#000" stroke-width="2.6"/>
<line x1="403.47" y1="242.7" x2="403.47" y2="247.9" stroke="#000" stroke-width="2.6"/>
<line x1="417.7" y1="242.7" x2="417.7" y2="250.9" stroke="#000" stroke-width="2.6"/>
<line x1="431.94" y1="242.7" x2="431.94" y2="247.9" stroke="#000" stroke-width="2.6"/>
<line x1="446.17" y1="242.7" x2="446.17" y2="247.9" stroke="#000" stroke-width="2.6"/>
<line x1="460.4" y1="242.7" x2="460.4" y2="250.9" stroke="#000" stroke-width="2.6"/>
<line x1="474.64" y1="242.7" x2="474.64" y2="247.9" stroke="#000" stroke-width="2.6"/>
<line x1="488.87" y1="242.7" x2="488.87" y2="247.9" stroke="#000" stroke-width="2.6"/>
<line x1="503.11" y1="242.7" x2="503.11" y2="250.9" stroke="#000" stroke-width="2.6"/>
<line x1="517.34" y1="242.7" x2="517.34" y2="247.9" stroke="#000" stroke-width="2.6"/>
<line x1="531.57" y1="242.7" x2="531.57" y2="247.9" stroke="#000" stroke-width="2.6"/>
<line x1="545.81" y1="242.7" x2="545.81" y2="250.9" stroke="#000" stroke-width="2.6"/>
<line x1="560.04" y1="242.7" x2="560.04" y2="247.9" stroke="#000" stroke-width="2.6"/>
<line x1="574.28" y1="242.7" x2="574.28" y2="247.9" stroke="#000" stroke-width="2.6"/>
<line x1="588.51" y1="242.7" x2="588.51" y2="250.9" stroke="#000" stroke-width="2.6"/>
<polyline points="389.23,240.1 403.47,240 417.7,240 431.94,239.9 446.17,239.8 460.4,239.4 474.64,237.4 488.87,235.4 503.11,232.3 517.34,227.6 531.57,220.8 545.81,211.3 560.04,198.2 574.28,183.9" fill="none" stroke="#000" stroke-width="1.4" stroke-linejoin="round" stroke-dasharray="3 3"/>
<line x1="560.04" y1="192.4" x2="560.04" y2="204.7" stroke="#000" stroke-width="1.8"/>
<line x1="553.54" y1="192.4" x2="566.54" y2="192.4" stroke="#000" stroke-width="2.2"/>
<line x1="553.54" y1="204.7" x2="566.54" y2="204.7" stroke="#000" stroke-width="2.2"/>
<line x1="574.28" y1="178" x2="574.28" y2="190.8" stroke="#000" stroke-width="1.8"/>
<line x1="567.78" y1="178" x2="580.78" y2="178" stroke="#000" stroke-width="2.2"/>
<line x1="567.78" y1="190.8" x2="580.78" y2="190.8" stroke="#000" stroke-width="2.2"/>
<line x1="545.81" y1="207.5" x2="545.81" y2="215" stroke="#000" stroke-width="1.8"/>
<line x1="539.31" y1="207.5" x2="552.31" y2="207.5" stroke="#000" stroke-width="2.2"/>
<line x1="539.31" y1="215" x2="552.31" y2="215" stroke="#000" stroke-width="2.2"/>
<circle cx="389.23" cy="240.1" r="6.7" fill="#0a0a0a"/>
<ellipse cx="386.55" cy="237.29" rx="2.68" ry="2.41" fill="url(#hl_gBlack)"/>
<circle cx="403.47" cy="240" r="6.7" fill="#0a0a0a"/>
<ellipse cx="400.79" cy="237.19" rx="2.68" ry="2.41" fill="url(#hl_gBlack)"/>
<circle cx="417.7" cy="240" r="6.7" fill="#0a0a0a"/>
<ellipse cx="415.02" cy="237.19" rx="2.68" ry="2.41" fill="url(#hl_gBlack)"/>
<circle cx="431.94" cy="239.9" r="6.7" fill="#0a0a0a"/>
<ellipse cx="429.26" cy="237.09" rx="2.68" ry="2.41" fill="url(#hl_gBlack)"/>
<circle cx="446.17" cy="239.8" r="6.7" fill="#0a0a0a"/>
<ellipse cx="443.49" cy="236.99" rx="2.68" ry="2.41" fill="url(#hl_gBlack)"/>
<circle cx="460.4" cy="239.4" r="6.7" fill="#0a0a0a"/>
<ellipse cx="457.72" cy="236.59" rx="2.68" ry="2.41" fill="url(#hl_gBlack)"/>
<circle cx="474.64" cy="237.4" r="6.7" fill="#0a0a0a"/>
<ellipse cx="471.96" cy="234.59" rx="2.68" ry="2.41" fill="url(#hl_gBlack)"/>
<circle cx="488.87" cy="235.4" r="6.7" fill="#0a0a0a"/>
<ellipse cx="486.19" cy="232.59" rx="2.68" ry="2.41" fill="url(#hl_gBlack)"/>
<circle cx="503.11" cy="232.3" r="6.7" fill="#0a0a0a"/>
<ellipse cx="500.43" cy="229.49" rx="2.68" ry="2.41" fill="url(#hl_gBlack)"/>
<circle cx="517.34" cy="227.6" r="6.7" fill="#0a0a0a"/>
<ellipse cx="514.66" cy="224.79" rx="2.68" ry="2.41" fill="url(#hl_gBlack)"/>
<circle cx="531.57" cy="220.8" r="6.7" fill="#0a0a0a"/>
<ellipse cx="528.89" cy="217.99" rx="2.68" ry="2.41" fill="url(#hl_gBlack)"/>
<circle cx="545.81" cy="211.3" r="6.7" fill="#0a0a0a"/>
<ellipse cx="543.13" cy="208.49" rx="2.68" ry="2.41" fill="url(#hl_gBlack)"/>
<circle cx="560.04" cy="198.2" r="6.7" fill="#0a0a0a"/>
<ellipse cx="557.36" cy="195.39" rx="2.68" ry="2.41" fill="url(#hl_gBlack)"/>
<circle cx="574.28" cy="183.9" r="6.7" fill="#0a0a0a"/>
<ellipse cx="571.6" cy="181.09" rx="2.68" ry="2.41" fill="url(#hl_gBlack)"/>
<text x="360.1" y="267.3" font-size="13" font-weight="bold" fill="#000" textLength="28.62" lengthAdjust="spacingAndGlyphs">-120</text>
<text x="406.78" y="267.3" font-size="13" font-weight="bold" fill="#000" textLength="20.67" lengthAdjust="spacingAndGlyphs">-60</text>
<text x="455.84" y="267.3" font-size="13" font-weight="bold" fill="#000" textLength="7.95" lengthAdjust="spacingAndGlyphs">0</text>
<text x="494.58" y="267.3" font-size="13" font-weight="bold" fill="#000" textLength="15.91" lengthAdjust="spacingAndGlyphs">60</text>
<text x="533.12" y="267.3" font-size="13" font-weight="bold" fill="#000" textLength="23.86" lengthAdjust="spacingAndGlyphs">120</text>
<text x="575.82" y="267.3" font-size="13" font-weight="bold" fill="#000" textLength="23.86" lengthAdjust="spacingAndGlyphs">180</text>
<text x="431.57" y="286.2" font-size="17.6" font-weight="bold" fill="#000" textLength="75.66" lengthAdjust="spacingAndGlyphs">Vm (mV)</text>
<text transform="translate(317.8,251.08) rotate(-90)" font-size="17.6" font-weight="bold" fill="#000" textLength="4.05" lengthAdjust="spacingAndGlyphs">I</text>
<text transform="translate(324.5,246.17) rotate(-90)" font-size="12.5" font-weight="bold" fill="#000" textLength="11.37" lengthAdjust="spacingAndGlyphs">Cl</text>
<text transform="translate(318.5,230.92) rotate(-90)" font-size="18.2" font-weight="bold" fill="#000" textLength="64.95" lengthAdjust="spacingAndGlyphs">(nA/pF)</text>
<line x1="368.7" y1="308.2" x2="368.7" y2="383.3" stroke="#000" stroke-width="3.4"/>
<line x1="360.7" y1="309.4" x2="370.2" y2="309.4" stroke="#000" stroke-width="2.6"/>
<text x="326.95" y="313" font-size="14.2" font-weight="bold" fill="#000" textLength="27.64" lengthAdjust="spacingAndGlyphs">0.10</text>
<line x1="360.7" y1="345.8" x2="370.2" y2="345.8" stroke="#000" stroke-width="2.6"/>
<text x="326.76" y="349.4" font-size="14.2" font-weight="bold" fill="#000" textLength="27.64" lengthAdjust="spacingAndGlyphs">0.05</text>
<line x1="360.7" y1="382.1" x2="370.2" y2="382.1" stroke="#000" stroke-width="2.6"/>
<text x="326.95" y="385.7" font-size="14.2" font-weight="bold" fill="#000" textLength="27.64" lengthAdjust="spacingAndGlyphs">0.00</text>
<line x1="364.2" y1="327.6" x2="370.2" y2="327.6" stroke="#000" stroke-width="2.6"/>
<line x1="364.2" y1="364" x2="370.2" y2="364" stroke="#000" stroke-width="2.6"/>
<line x1="374" y1="385.6" x2="589.8" y2="385.6" stroke="#000" stroke-width="3"/>
<line x1="375" y1="384.4" x2="375" y2="392.6" stroke="#000" stroke-width="2.6"/>
<line x1="389.23" y1="384.4" x2="389.23" y2="389.6" stroke="#000" stroke-width="2.6"/>
<line x1="403.47" y1="384.4" x2="403.47" y2="389.6" stroke="#000" stroke-width="2.6"/>
<line x1="417.7" y1="384.4" x2="417.7" y2="392.6" stroke="#000" stroke-width="2.6"/>
<line x1="431.94" y1="384.4" x2="431.94" y2="389.6" stroke="#000" stroke-width="2.6"/>
<line x1="446.17" y1="384.4" x2="446.17" y2="389.6" stroke="#000" stroke-width="2.6"/>
<line x1="460.4" y1="384.4" x2="460.4" y2="392.6" stroke="#000" stroke-width="2.6"/>
<line x1="474.64" y1="384.4" x2="474.64" y2="389.6" stroke="#000" stroke-width="2.6"/>
<line x1="488.87" y1="384.4" x2="488.87" y2="389.6" stroke="#000" stroke-width="2.6"/>
<line x1="503.11" y1="384.4" x2="503.11" y2="392.6" stroke="#000" stroke-width="2.6"/>
<line x1="517.34" y1="384.4" x2="517.34" y2="389.6" stroke="#000" stroke-width="2.6"/>
<line x1="531.57" y1="384.4" x2="531.57" y2="389.6" stroke="#000" stroke-width="2.6"/>
<line x1="545.81" y1="384.4" x2="545.81" y2="392.6" stroke="#000" stroke-width="2.6"/>
<line x1="560.04" y1="384.4" x2="560.04" y2="389.6" stroke="#000" stroke-width="2.6"/>
<line x1="574.28" y1="384.4" x2="574.28" y2="389.6" stroke="#000" stroke-width="2.6"/>
<line x1="588.51" y1="384.4" x2="588.51" y2="392.6" stroke="#000" stroke-width="2.6"/>
<circle cx="389.23" cy="380.6" r="6.5" fill="#474747"/>
<circle cx="403.47" cy="380.6" r="6.5" fill="#474747"/>
<circle cx="417.7" cy="380.6" r="6.5" fill="#474747"/>
<circle cx="431.94" cy="380.6" r="6.5" fill="#474747"/>
<circle cx="446.17" cy="380.6" r="6.5" fill="#474747"/>
<circle cx="460.4" cy="380.6" r="6.5" fill="#474747"/>
<circle cx="474.64" cy="380.6" r="6.5" fill="#474747"/>
<circle cx="488.87" cy="380.6" r="6.5" fill="#474747"/>
<circle cx="503.11" cy="380.6" r="6.5" fill="#474747"/>
<circle cx="517.34" cy="380.6" r="6.5" fill="#474747"/>
<circle cx="531.57" cy="380.6" r="6.5" fill="#474747"/>
<circle cx="545.81" cy="380.6" r="6.5" fill="#474747"/>
<circle cx="560.04" cy="380.6" r="6.5" fill="#474747"/>
<circle cx="574.28" cy="380.6" r="6.5" fill="#474747"/>
<polyline points="389.23,382.9 403.47,383 417.7,382.2 431.94,382 446.17,380.6 460.4,380 474.64,377 488.87,373.5 503.11,368.5 517.34,362 531.57,353.9 545.81,343.3 560.04,328.6" fill="none" stroke="#8a8a8a" stroke-width="1.2" stroke-linejoin="round" stroke-dasharray="1.5 3"/>
<line x1="531.57" y1="346.5" x2="531.57" y2="362.3" stroke="#8a8a8a" stroke-width="1.3"/>
<line x1="527.97" y1="346.5" x2="535.17" y2="346.5" stroke="#8a8a8a" stroke-width="1.3"/>
<line x1="527.97" y1="362.3" x2="535.17" y2="362.3" stroke="#8a8a8a" stroke-width="1.3"/>
<line x1="545.81" y1="334" x2="545.81" y2="353.5" stroke="#8a8a8a" stroke-width="1.3"/>
<line x1="542.21" y1="334" x2="549.41" y2="334" stroke="#8a8a8a" stroke-width="1.3"/>
<line x1="542.21" y1="353.5" x2="549.41" y2="353.5" stroke="#8a8a8a" stroke-width="1.3"/>
<line x1="560.04" y1="316.4" x2="560.04" y2="342.1" stroke="#8a8a8a" stroke-width="1.3"/>
<line x1="556.44" y1="316.4" x2="563.64" y2="316.4" stroke="#8a8a8a" stroke-width="1.3"/>
<line x1="556.44" y1="342.1" x2="563.64" y2="342.1" stroke="#8a8a8a" stroke-width="1.3"/>
<line x1="517.34" y1="357" x2="517.34" y2="367" stroke="#8a8a8a" stroke-width="1.3"/>
<line x1="513.74" y1="357" x2="520.94" y2="357" stroke="#8a8a8a" stroke-width="1.3"/>
<line x1="513.74" y1="367" x2="520.94" y2="367" stroke="#8a8a8a" stroke-width="1.3"/>
<circle cx="389.23" cy="382.9" r="6.5" fill="#8a8a8a" stroke="#6e6e6e" stroke-width="0.8"/>
<path d="M387.23,379.9 a2.3,3.4 0 0,0 0,6.8 z" fill="#ffffff" opacity="0.9"/>
<circle cx="403.47" cy="383" r="6.5" fill="#8a8a8a" stroke="#6e6e6e" stroke-width="0.8"/>
<path d="M401.47,380 a2.3,3.4 0 0,0 0,6.8 z" fill="#ffffff" opacity="0.9"/>
<circle cx="417.7" cy="382.2" r="6.5" fill="#8a8a8a" stroke="#6e6e6e" stroke-width="0.8"/>
<path d="M415.7,379.2 a2.3,3.4 0 0,0 0,6.8 z" fill="#ffffff" opacity="0.9"/>
<circle cx="431.94" cy="382" r="6.5" fill="#8a8a8a" stroke="#6e6e6e" stroke-width="0.8"/>
<path d="M429.94,379 a2.3,3.4 0 0,0 0,6.8 z" fill="#ffffff" opacity="0.9"/>
<circle cx="446.17" cy="380.6" r="6.5" fill="#8a8a8a" stroke="#6e6e6e" stroke-width="0.8"/>
<path d="M444.17,377.6 a2.3,3.4 0 0,0 0,6.8 z" fill="#ffffff" opacity="0.9"/>
<circle cx="460.4" cy="380" r="6.5" fill="#8a8a8a" stroke="#6e6e6e" stroke-width="0.8"/>
<path d="M458.4,377 a2.3,3.4 0 0,0 0,6.8 z" fill="#ffffff" opacity="0.9"/>
<circle cx="474.64" cy="377" r="6.5" fill="#8a8a8a" stroke="#6e6e6e" stroke-width="0.8"/>
<path d="M472.64,374 a2.3,3.4 0 0,0 0,6.8 z" fill="#ffffff" opacity="0.9"/>
<circle cx="488.87" cy="373.5" r="6.5" fill="#8a8a8a" stroke="#6e6e6e" stroke-width="0.8"/>
<path d="M486.87,370.5 a2.3,3.4 0 0,0 0,6.8 z" fill="#ffffff" opacity="0.9"/>
<circle cx="503.11" cy="368.5" r="6.5" fill="#8a8a8a" stroke="#6e6e6e" stroke-width="0.8"/>
<path d="M501.11,365.5 a2.3,3.4 0 0,0 0,6.8 z" fill="#ffffff" opacity="0.9"/>
<circle cx="517.34" cy="362" r="6.5" fill="#8a8a8a" stroke="#6e6e6e" stroke-width="0.8"/>
<path d="M515.34,359 a2.3,3.4 0 0,0 0,6.8 z" fill="#ffffff" opacity="0.9"/>
<circle cx="531.57" cy="353.9" r="6.5" fill="#8a8a8a" stroke="#6e6e6e" stroke-width="0.8"/>
<path d="M529.57,350.9 a2.3,3.4 0 0,0 0,6.8 z" fill="#ffffff" opacity="0.9"/>
<circle cx="545.81" cy="343.3" r="6.5" fill="#8a8a8a" stroke="#6e6e6e" stroke-width="0.8"/>
<path d="M543.81,340.3 a2.3,3.4 0 0,0 0,6.8 z" fill="#ffffff" opacity="0.9"/>
<circle cx="560.04" cy="328.6" r="6.5" fill="#8a8a8a" stroke="#6e6e6e" stroke-width="0.8"/>
<path d="M558.04,325.6 a2.3,3.4 0 0,0 0,6.8 z" fill="#ffffff" opacity="0.9"/>
<text x="360.1" y="408.8" font-size="13" font-weight="bold" fill="#000" textLength="28.62" lengthAdjust="spacingAndGlyphs">-120</text>
<text x="406.78" y="408.8" font-size="13" font-weight="bold" fill="#000" textLength="20.67" lengthAdjust="spacingAndGlyphs">-60</text>
<text x="455.84" y="408.8" font-size="13" font-weight="bold" fill="#000" textLength="7.95" lengthAdjust="spacingAndGlyphs">0</text>
<text x="494.58" y="408.8" font-size="13" font-weight="bold" fill="#000" textLength="15.91" lengthAdjust="spacingAndGlyphs">60</text>
<text x="533.12" y="408.8" font-size="13" font-weight="bold" fill="#000" textLength="23.86" lengthAdjust="spacingAndGlyphs">120</text>
<text x="575.82" y="408.8" font-size="13" font-weight="bold" fill="#000" textLength="23.86" lengthAdjust="spacingAndGlyphs">180</text>
<text x="431.57" y="428.2" font-size="17.6" font-weight="bold" fill="#000" textLength="75.66" lengthAdjust="spacingAndGlyphs">Vm (mV)</text>
<text transform="translate(317.8,394.97) rotate(-90)" font-size="17.6" font-weight="bold" fill="#000" textLength="4.44" lengthAdjust="spacingAndGlyphs">I</text>
<text transform="translate(324.8,389.44) rotate(-90)" font-size="12.5" font-weight="bold" fill="#000" textLength="13.29" lengthAdjust="spacingAndGlyphs">Cl</text>
<text transform="translate(318.5,371.51) rotate(-90)" font-size="18.2" font-weight="bold" fill="#000" textLength="64.23" lengthAdjust="spacingAndGlyphs">(nA/pF)</text>
<line x1="62.8" y1="484.8" x2="62.8" y2="590.8" stroke="#000" stroke-width="3"/>
<line x1="57.8" y1="589.4" x2="63.5" y2="589.4" stroke="#000" stroke-width="2.4"/>
<text x="46.69" y="593.2" font-size="14" font-weight="bold" fill="#000" textLength="7.79" lengthAdjust="spacingAndGlyphs">0</text>
<line x1="59.8" y1="576.47" x2="63.5" y2="576.47" stroke="#000" stroke-width="2.2"/>
<line x1="57.8" y1="563.54" x2="63.5" y2="563.54" stroke="#000" stroke-width="2.4"/>
<text x="46.67" y="567.34" font-size="14" font-weight="bold" fill="#000" textLength="7.79" lengthAdjust="spacingAndGlyphs">2</text>
<line x1="59.8" y1="550.61" x2="63.5" y2="550.61" stroke="#000" stroke-width="2.2"/>
<line x1="57.8" y1="537.68" x2="63.5" y2="537.68" stroke="#000" stroke-width="2.4"/>
<text x="46.19" y="541.48" font-size="14" font-weight="bold" fill="#000" textLength="7.79" lengthAdjust="spacingAndGlyphs">4</text>
<line x1="59.8" y1="524.75" x2="63.5" y2="524.75" stroke="#000" stroke-width="2.2"/>
<line x1="57.8" y1="511.82" x2="63.5" y2="511.82" stroke="#000" stroke-width="2.4"/>
<text x="46.62" y="515.62" font-size="14" font-weight="bold" fill="#000" textLength="7.79" lengthAdjust="spacingAndGlyphs">6</text>
<line x1="59.8" y1="498.89" x2="63.5" y2="498.89" stroke="#000" stroke-width="2.2"/>
<line x1="57.8" y1="485.96" x2="63.5" y2="485.96" stroke="#000" stroke-width="2.4"/>
<text x="46.54" y="489.76" font-size="14" font-weight="bold" fill="#000" textLength="7.79" lengthAdjust="spacingAndGlyphs">8</text>
<line x1="71.6" y1="594.2" x2="257.6" y2="594.2" stroke="#000" stroke-width="3"/>
<line x1="72.8" y1="593" x2="72.8" y2="599" stroke="#000" stroke-width="2.4"/>
<line x1="85.03" y1="593" x2="85.03" y2="597.2" stroke="#000" stroke-width="2.4"/>
<line x1="97.27" y1="593" x2="97.27" y2="597.2" stroke="#000" stroke-width="2.4"/>
<line x1="109.5" y1="593" x2="109.5" y2="599" stroke="#000" stroke-width="2.4"/>
<line x1="121.74" y1="593" x2="121.74" y2="597.2" stroke="#000" stroke-width="2.4"/>
<line x1="133.97" y1="593" x2="133.97" y2="597.2" stroke="#000" stroke-width="2.4"/>
<line x1="146.2" y1="593" x2="146.2" y2="599" stroke="#000" stroke-width="2.4"/>
<line x1="158.44" y1="593" x2="158.44" y2="597.2" stroke="#000" stroke-width="2.4"/>
<line x1="170.67" y1="593" x2="170.67" y2="597.2" stroke="#000" stroke-width="2.4"/>
<line x1="182.91" y1="593" x2="182.91" y2="599" stroke="#000" stroke-width="2.4"/>
<line x1="195.14" y1="593" x2="195.14" y2="597.2" stroke="#000" stroke-width="2.4"/>
<line x1="207.37" y1="593" x2="207.37" y2="597.2" stroke="#000" stroke-width="2.4"/>
<line x1="219.61" y1="593" x2="219.61" y2="599" stroke="#000" stroke-width="2.4"/>
<line x1="231.84" y1="593" x2="231.84" y2="597.2" stroke="#000" stroke-width="2.4"/>
<line x1="244.08" y1="593" x2="244.08" y2="597.2" stroke="#000" stroke-width="2.4"/>
<line x1="256.31" y1="593" x2="256.31" y2="599" stroke="#000" stroke-width="2.4"/>
<text x="58.47" y="613.3" font-size="13.3" font-weight="bold" fill="#000" textLength="28.48" lengthAdjust="spacingAndGlyphs">-120</text>
<text x="99.13" y="613.3" font-size="13.3" font-weight="bold" fill="#000" textLength="20.57" lengthAdjust="spacingAndGlyphs">-60</text>
<text x="142.16" y="613.3" font-size="13.3" font-weight="bold" fill="#000" textLength="7.91" lengthAdjust="spacingAndGlyphs">0</text>
<text x="174.92" y="613.3" font-size="13.3" font-weight="bold" fill="#000" textLength="15.83" lengthAdjust="spacingAndGlyphs">60</text>
<text x="207.48" y="613.3" font-size="13.3" font-weight="bold" fill="#000" textLength="23.74" lengthAdjust="spacingAndGlyphs">120</text>
<text x="244.18" y="613.3" font-size="13.3" font-weight="bold" fill="#000" textLength="23.74" lengthAdjust="spacingAndGlyphs">180</text>
<text x="120.28" y="638.2" font-size="16.6" font-weight="bold" fill="#000" textLength="66.86" lengthAdjust="spacingAndGlyphs">Vm (mv)</text>
<text transform="translate(35,603.22) rotate(-90)" font-size="18.5" font-weight="bold" fill="#000" textLength="4.24" lengthAdjust="spacingAndGlyphs">I</text>
<text transform="translate(41,598.47) rotate(-90)" font-size="12.5" font-weight="bold" fill="#000" textLength="5.75" lengthAdjust="spacingAndGlyphs">x</text>
<text transform="translate(35,591.96) rotate(-90)" font-size="18.5" font-weight="bold" fill="#000" textLength="9.05" lengthAdjust="spacingAndGlyphs">/I</text>
<text transform="translate(41,582.2) rotate(-90)" font-size="12.8" font-weight="bold" fill="#000" textLength="102.59" lengthAdjust="spacingAndGlyphs">Cl,Vm at +160 mV</text>
<polyline points="85.03,589.4 97.27,589.01 109.5,589.01 121.74,588.88 133.97,588.75 146.2,588.49 158.44,588.11 170.67,587.85 182.91,587.07 195.14,586.17 207.37,584.87 219.61,582.29 231.84,580.61 244.08,576.47" fill="none" stroke="#e8128a" stroke-width="1.8" stroke-linejoin="round"/>
<polyline points="85.03,589.4 97.27,588.75 109.5,588.75 121.74,588.75 133.97,588.37 146.2,588.11 158.44,587.85 170.67,587.46 182.91,586.81 195.14,585.52 207.37,583.97 219.61,580.35 231.84,575.82 244.08,570.65" fill="none" stroke="#7d7d0c" stroke-width="1.8" stroke-linejoin="round"/>
<polyline points="85.03,589.4 97.27,588.75 109.5,588.75 121.74,588.62 133.97,588.37 146.2,588.11 158.44,587.85 170.67,587.2 182.91,586.17 195.14,584.49 207.37,581.64 219.61,577.38 231.84,568.45 244.08,555.14" fill="none" stroke="#118d1a" stroke-width="1.8" stroke-linejoin="round"/>
<polyline points="85.03,588.11 97.27,588.11 109.5,588.11 121.74,588.11 133.97,587.85 146.2,587.46 158.44,587.07 170.67,586.56 182.91,585.52 195.14,582.93 207.37,579.06 219.61,571.69 231.84,559.4 244.08,538.59" fill="none" stroke="#1a1aff" stroke-width="1.8" stroke-linejoin="round"/>
<polyline points="85.03,590.05 97.27,589.4 109.5,588.75 121.74,587.72 133.97,586.81 146.2,584.75 158.44,582.93 170.67,579.31 182.91,575.82 195.14,570.39 207.37,561.34 219.61,546.21 231.84,522.81 244.08,489.84" fill="none" stroke="#7d0000" stroke-width="1.8" stroke-linejoin="round" stroke-dasharray="5 2.5"/>
<line x1="244.08" y1="480.8" x2="244.08" y2="498.9" stroke="#7d0000" stroke-width="1.6"/>
<line x1="240.08" y1="480.8" x2="248.08" y2="480.8" stroke="#7d0000" stroke-width="1.6"/>
<line x1="240.08" y1="498.9" x2="248.08" y2="498.9" stroke="#7d0000" stroke-width="1.6"/>
<line x1="227.84" y1="518" x2="235.84" y2="518" stroke="#7d0000" stroke-width="1.5"/>
<line x1="231.84" y1="518" x2="231.84" y2="528" stroke="#7d0000" stroke-width="1.5"/>
<circle cx="85.03" cy="589.4" r="7.3" fill="#7d7d0c"/>
<circle cx="85.03" cy="589.4" r="5.3" fill="#fa148c"/>
<ellipse cx="82.91" cy="587.17" rx="2.12" ry="1.91" fill="url(#hl_gPink)"/>
<circle cx="97.27" cy="589.01" r="5.3" fill="#fa148c"/>
<ellipse cx="95.15" cy="586.79" rx="2.12" ry="1.91" fill="url(#hl_gPink)"/>
<circle cx="109.5" cy="589.01" r="5.3" fill="#fa148c"/>
<ellipse cx="107.38" cy="586.79" rx="2.12" ry="1.91" fill="url(#hl_gPink)"/>
<circle cx="121.74" cy="588.88" r="5.3" fill="#fa148c"/>
<ellipse cx="119.62" cy="586.66" rx="2.12" ry="1.91" fill="url(#hl_gPink)"/>
<circle cx="133.97" cy="588.75" r="5.3" fill="#fa148c"/>
<ellipse cx="131.85" cy="586.53" rx="2.12" ry="1.91" fill="url(#hl_gPink)"/>
<circle cx="146.2" cy="588.49" r="5.3" fill="#fa148c"/>
<ellipse cx="144.08" cy="586.27" rx="2.12" ry="1.91" fill="url(#hl_gPink)"/>
<circle cx="158.44" cy="588.11" r="5.3" fill="#fa148c"/>
<ellipse cx="156.32" cy="585.88" rx="2.12" ry="1.91" fill="url(#hl_gPink)"/>
<circle cx="170.67" cy="587.85" r="5.3" fill="#fa148c"/>
<ellipse cx="168.55" cy="585.62" rx="2.12" ry="1.91" fill="url(#hl_gPink)"/>
<circle cx="182.91" cy="587.07" r="5.3" fill="#fa148c"/>
<ellipse cx="180.79" cy="584.85" rx="2.12" ry="1.91" fill="url(#hl_gPink)"/>
<circle cx="195.14" cy="586.17" r="5.3" fill="#fa148c"/>
<ellipse cx="193.02" cy="583.94" rx="2.12" ry="1.91" fill="url(#hl_gPink)"/>
<circle cx="207.37" cy="584.87" r="5.3" fill="#fa148c"/>
<ellipse cx="205.25" cy="582.65" rx="2.12" ry="1.91" fill="url(#hl_gPink)"/>
<circle cx="219.61" cy="582.29" r="5.3" fill="#fa148c"/>
<ellipse cx="217.49" cy="580.06" rx="2.12" ry="1.91" fill="url(#hl_gPink)"/>
<circle cx="231.84" cy="580.61" r="5.3" fill="#fa148c"/>
<ellipse cx="229.72" cy="578.38" rx="2.12" ry="1.91" fill="url(#hl_gPink)"/>
<circle cx="244.08" cy="576.47" r="5.3" fill="#fa148c"/>
<ellipse cx="241.96" cy="574.24" rx="2.12" ry="1.91" fill="url(#hl_gPink)"/>
<circle cx="85.03" cy="589.4" r="5.3" fill="#86861a"/>
<ellipse cx="82.91" cy="587.17" rx="2.12" ry="1.91" fill="url(#hl_gOlive)"/>
<circle cx="97.27" cy="588.75" r="5.3" fill="#86861a"/>
<ellipse cx="95.15" cy="586.53" rx="2.12" ry="1.91" fill="url(#hl_gOlive)"/>
<circle cx="109.5" cy="588.75" r="5.3" fill="#86861a"/>
<ellipse cx="107.38" cy="586.53" rx="2.12" ry="1.91" fill="url(#hl_gOlive)"/>
<circle cx="121.74" cy="588.75" r="5.3" fill="#86861a"/>
<ellipse cx="119.62" cy="586.53" rx="2.12" ry="1.91" fill="url(#hl_gOlive)"/>
<circle cx="133.97" cy="588.37" r="5.3" fill="#86861a"/>
<ellipse cx="131.85" cy="586.14" rx="2.12" ry="1.91" fill="url(#hl_gOlive)"/>
<circle cx="146.2" cy="588.11" r="5.3" fill="#86861a"/>
<ellipse cx="144.08" cy="585.88" rx="2.12" ry="1.91" fill="url(#hl_gOlive)"/>
<circle cx="158.44" cy="587.85" r="5.3" fill="#86861a"/>
<ellipse cx="156.32" cy="585.62" rx="2.12" ry="1.91" fill="url(#hl_gOlive)"/>
<circle cx="170.67" cy="587.46" r="5.3" fill="#86861a"/>
<ellipse cx="168.55" cy="585.23" rx="2.12" ry="1.91" fill="url(#hl_gOlive)"/>
<circle cx="182.91" cy="586.81" r="5.3" fill="#86861a"/>
<ellipse cx="180.79" cy="584.59" rx="2.12" ry="1.91" fill="url(#hl_gOlive)"/>
<circle cx="195.14" cy="585.52" r="5.3" fill="#86861a"/>
<ellipse cx="193.02" cy="583.29" rx="2.12" ry="1.91" fill="url(#hl_gOlive)"/>
<circle cx="207.37" cy="583.97" r="5.3" fill="#86861a"/>
<ellipse cx="205.25" cy="581.74" rx="2.12" ry="1.91" fill="url(#hl_gOlive)"/>
<circle cx="219.61" cy="580.35" r="5.3" fill="#86861a"/>
<ellipse cx="217.49" cy="578.12" rx="2.12" ry="1.91" fill="url(#hl_gOlive)"/>
<circle cx="231.84" cy="575.82" r="5.3" fill="#86861a"/>
<ellipse cx="229.72" cy="573.6" rx="2.12" ry="1.91" fill="url(#hl_gOlive)"/>
<circle cx="244.08" cy="570.65" r="5.3" fill="#86861a"/>
<ellipse cx="241.96" cy="568.43" rx="2.12" ry="1.91" fill="url(#hl_gOlive)"/>
<circle cx="85.03" cy="589.4" r="5.3" fill="#0e8c16"/>
<ellipse cx="82.91" cy="587.17" rx="2.12" ry="1.91" fill="url(#hl_gGreen)"/>
<circle cx="97.27" cy="588.75" r="5.3" fill="#0e8c16"/>
<ellipse cx="95.15" cy="586.53" rx="2.12" ry="1.91" fill="url(#hl_gGreen)"/>
<circle cx="109.5" cy="588.75" r="5.3" fill="#0e8c16"/>
<ellipse cx="107.38" cy="586.53" rx="2.12" ry="1.91" fill="url(#hl_gGreen)"/>
<circle cx="121.74" cy="588.62" r="5.3" fill="#0e8c16"/>
<ellipse cx="119.62" cy="586.4" rx="2.12" ry="1.91" fill="url(#hl_gGreen)"/>
<circle cx="133.97" cy="588.37" r="5.3" fill="#0e8c16"/>
<ellipse cx="131.85" cy="586.14" rx="2.12" ry="1.91" fill="url(#hl_gGreen)"/>
<circle cx="146.2" cy="588.11" r="5.3" fill="#0e8c16"/>
<ellipse cx="144.08" cy="585.88" rx="2.12" ry="1.91" fill="url(#hl_gGreen)"/>
<circle cx="158.44" cy="587.85" r="5.3" fill="#0e8c16"/>
<ellipse cx="156.32" cy="585.62" rx="2.12" ry="1.91" fill="url(#hl_gGreen)"/>
<circle cx="170.67" cy="587.2" r="5.3" fill="#0e8c16"/>
<ellipse cx="168.55" cy="584.98" rx="2.12" ry="1.91" fill="url(#hl_gGreen)"/>
<circle cx="182.91" cy="586.17" r="5.3" fill="#0e8c16"/>
<ellipse cx="180.79" cy="583.94" rx="2.12" ry="1.91" fill="url(#hl_gGreen)"/>
<circle cx="195.14" cy="584.49" r="5.3" fill="#0e8c16"/>
<ellipse cx="193.02" cy="582.26" rx="2.12" ry="1.91" fill="url(#hl_gGreen)"/>
<circle cx="207.37" cy="581.64" r="5.3" fill="#0e8c16"/>
<ellipse cx="205.25" cy="579.42" rx="2.12" ry="1.91" fill="url(#hl_gGreen)"/>
<circle cx="219.61" cy="577.38" r="5.3" fill="#0e8c16"/>
<ellipse cx="217.49" cy="575.15" rx="2.12" ry="1.91" fill="url(#hl_gGreen)"/>
<circle cx="231.84" cy="568.45" r="5.3" fill="#0e8c16"/>
<ellipse cx="229.72" cy="566.23" rx="2.12" ry="1.91" fill="url(#hl_gGreen)"/>
<circle cx="244.08" cy="555.14" r="5.3" fill="#0e8c16"/>
<ellipse cx="241.96" cy="552.91" rx="2.12" ry="1.91" fill="url(#hl_gGreen)"/>
<circle cx="85.03" cy="588.11" r="5.3" fill="#1010ff"/>
<ellipse cx="82.91" cy="585.88" rx="2.12" ry="1.91" fill="url(#hl_gBlueD)"/>
<circle cx="97.27" cy="588.11" r="5.3" fill="#1010ff"/>
<ellipse cx="95.15" cy="585.88" rx="2.12" ry="1.91" fill="url(#hl_gBlueD)"/>
<circle cx="109.5" cy="588.11" r="5.3" fill="#1010ff"/>
<ellipse cx="107.38" cy="585.88" rx="2.12" ry="1.91" fill="url(#hl_gBlueD)"/>
<circle cx="121.74" cy="588.11" r="5.3" fill="#1010ff"/>
<ellipse cx="119.62" cy="585.88" rx="2.12" ry="1.91" fill="url(#hl_gBlueD)"/>
<circle cx="133.97" cy="587.85" r="5.3" fill="#1010ff"/>
<ellipse cx="131.85" cy="585.62" rx="2.12" ry="1.91" fill="url(#hl_gBlueD)"/>
<circle cx="146.2" cy="587.46" r="5.3" fill="#1010ff"/>
<ellipse cx="144.08" cy="585.23" rx="2.12" ry="1.91" fill="url(#hl_gBlueD)"/>
<circle cx="158.44" cy="587.07" r="5.3" fill="#1010ff"/>
<ellipse cx="156.32" cy="584.85" rx="2.12" ry="1.91" fill="url(#hl_gBlueD)"/>
<circle cx="170.67" cy="586.56" r="5.3" fill="#1010ff"/>
<ellipse cx="168.55" cy="584.33" rx="2.12" ry="1.91" fill="url(#hl_gBlueD)"/>
<circle cx="182.91" cy="585.52" r="5.3" fill="#1010ff"/>
<ellipse cx="180.79" cy="583.29" rx="2.12" ry="1.91" fill="url(#hl_gBlueD)"/>
<circle cx="195.14" cy="582.93" r="5.3" fill="#1010ff"/>
<ellipse cx="193.02" cy="580.71" rx="2.12" ry="1.91" fill="url(#hl_gBlueD)"/>
<circle cx="207.37" cy="579.06" r="5.3" fill="#1010ff"/>
<ellipse cx="205.25" cy="576.83" rx="2.12" ry="1.91" fill="url(#hl_gBlueD)"/>
<circle cx="219.61" cy="571.69" r="5.3" fill="#1010ff"/>
<ellipse cx="217.49" cy="569.46" rx="2.12" ry="1.91" fill="url(#hl_gBlueD)"/>
<circle cx="231.84" cy="559.4" r="5.3" fill="#1010ff"/>
<ellipse cx="229.72" cy="557.18" rx="2.12" ry="1.91" fill="url(#hl_gBlueD)"/>
<circle cx="244.08" cy="538.59" r="5.3" fill="#1010ff"/>
<ellipse cx="241.96" cy="536.36" rx="2.12" ry="1.91" fill="url(#hl_gBlueD)"/>
<circle cx="85.03" cy="590.05" r="5.3" fill="#860808"/>
<ellipse cx="82.91" cy="587.82" rx="2.12" ry="1.91" fill="url(#hl_gMaroon)"/>
<circle cx="97.27" cy="589.4" r="5.3" fill="#860808"/>
<ellipse cx="95.15" cy="587.17" rx="2.12" ry="1.91" fill="url(#hl_gMaroon)"/>
<circle cx="109.5" cy="588.75" r="5.3" fill="#860808"/>
<ellipse cx="107.38" cy="586.53" rx="2.12" ry="1.91" fill="url(#hl_gMaroon)"/>
<circle cx="121.74" cy="587.72" r="5.3" fill="#860808"/>
<ellipse cx="119.62" cy="585.49" rx="2.12" ry="1.91" fill="url(#hl_gMaroon)"/>
<circle cx="133.97" cy="586.81" r="5.3" fill="#860808"/>
<ellipse cx="131.85" cy="584.59" rx="2.12" ry="1.91" fill="url(#hl_gMaroon)"/>
<circle cx="146.2" cy="584.75" r="5.3" fill="#860808"/>
<ellipse cx="144.08" cy="582.52" rx="2.12" ry="1.91" fill="url(#hl_gMaroon)"/>
<circle cx="158.44" cy="582.93" r="5.3" fill="#860808"/>
<ellipse cx="156.32" cy="580.71" rx="2.12" ry="1.91" fill="url(#hl_gMaroon)"/>
<circle cx="170.67" cy="579.31" r="5.3" fill="#860808"/>
<ellipse cx="168.55" cy="577.09" rx="2.12" ry="1.91" fill="url(#hl_gMaroon)"/>
<circle cx="182.91" cy="575.82" r="5.3" fill="#860808"/>
<ellipse cx="180.79" cy="573.6" rx="2.12" ry="1.91" fill="url(#hl_gMaroon)"/>
<circle cx="195.14" cy="570.39" r="5.3" fill="#860808"/>
<ellipse cx="193.02" cy="568.17" rx="2.12" ry="1.91" fill="url(#hl_gMaroon)"/>
<circle cx="207.37" cy="561.34" r="5.3" fill="#860808"/>
<ellipse cx="205.25" cy="559.12" rx="2.12" ry="1.91" fill="url(#hl_gMaroon)"/>
<circle cx="219.61" cy="546.21" r="5.3" fill="#860808"/>
<ellipse cx="217.49" cy="543.99" rx="2.12" ry="1.91" fill="url(#hl_gMaroon)"/>
<circle cx="231.84" cy="522.81" r="5.3" fill="#860808"/>
<ellipse cx="229.72" cy="520.58" rx="2.12" ry="1.91" fill="url(#hl_gMaroon)"/>
<circle cx="244.08" cy="489.84" r="5.3" fill="#860808"/>
<ellipse cx="241.96" cy="487.61" rx="2.12" ry="1.91" fill="url(#hl_gMaroon)"/>
<line x1="69" y1="488.8" x2="99" y2="488.8" stroke="#7d0000" stroke-width="1.8"/>
<circle cx="83.6" cy="488.8" r="5.4" fill="#860808"/>
<ellipse cx="81.44" cy="486.53" rx="2.16" ry="1.94" fill="url(#hl_gMaroon)"/>
<text x="102.4" y="493" font-size="13.2" font-weight="normal" fill="#000" textLength="27.98" lengthAdjust="spacingAndGlyphs">SCN</text>
<line x1="130.7" y1="485" x2="132.6" y2="485" stroke="#333" stroke-width="0.9"/>
<line x1="69" y1="508" x2="99" y2="508" stroke="#1a1aff" stroke-width="1.8"/>
<circle cx="83.6" cy="508" r="5.4" fill="#1010ff"/>
<ellipse cx="81.44" cy="505.73" rx="2.16" ry="1.94" fill="url(#hl_gBlueD)"/>
<text x="101.6" y="512.4" font-size="13.2" font-weight="normal" text-anchor="start" fill="#000">I</text>
<line x1="106.8" y1="504.3" x2="108.8" y2="504.3" stroke="#333" stroke-width="0.9"/>
<line x1="69" y1="523.9" x2="99" y2="523.9" stroke="#118d1a" stroke-width="1.8"/>
<circle cx="83.6" cy="523.9" r="5.4" fill="#0e8c16"/>
<ellipse cx="81.44" cy="521.63" rx="2.16" ry="1.94" fill="url(#hl_gGreen)"/>
<text x="101.86" y="527.6" font-size="13.2" font-weight="normal" fill="#000" textLength="20.91" lengthAdjust="spacingAndGlyphs">NO</text>
<text x="121.57" y="531.6" font-size="9.2" font-weight="normal" fill="#000" textLength="4.81" lengthAdjust="spacingAndGlyphs">3</text>
<line x1="69" y1="546.2" x2="99" y2="546.2" stroke="#7d7d0c" stroke-width="1.8"/>
<circle cx="83.6" cy="546.2" r="5.4" fill="#86861a"/>
<ellipse cx="81.44" cy="543.93" rx="2.16" ry="1.94" fill="url(#hl_gOlive)"/>
<text x="101.88" y="550.8" font-size="13.2" font-weight="normal" fill="#000" textLength="13.65" lengthAdjust="spacingAndGlyphs">Br</text>
<line x1="115.6" y1="542.5" x2="118" y2="542.5" stroke="#333" stroke-width="0.9"/>
<line x1="69" y1="565.4" x2="99" y2="565.4" stroke="#e8128a" stroke-width="1.8"/>
<circle cx="83.6" cy="565.4" r="5.4" fill="#fa148c"/>
<ellipse cx="81.44" cy="563.13" rx="2.16" ry="1.94" fill="url(#hl_gPink)"/>
<text x="102.32" y="569.5" font-size="13.2" font-weight="normal" fill="#000" textLength="12.57" lengthAdjust="spacingAndGlyphs">Cl</text>
<line x1="115.3" y1="561.7" x2="117.4" y2="561.7" stroke="#333" stroke-width="0.9"/>
<line x1="373.6" y1="484.3" x2="373.6" y2="595.6" stroke="#000" stroke-width="2.9"/>
<line x1="366.3" y1="485.5" x2="374.5" y2="485.5" stroke="#000" stroke-width="2.6"/>
<text x="336.23" y="489.6" font-size="13" font-weight="bold" fill="#000" textLength="23.86" lengthAdjust="spacingAndGlyphs">100</text>
<line x1="366.3" y1="537.35" x2="374.5" y2="537.35" stroke="#000" stroke-width="2.6"/>
<text x="344.18" y="541.45" font-size="13" font-weight="bold" fill="#000" textLength="15.91" lengthAdjust="spacingAndGlyphs">50</text>
<line x1="366.3" y1="589.2" x2="374.5" y2="589.2" stroke="#000" stroke-width="2.6"/>
<text x="352.13" y="593.3" font-size="13" font-weight="bold" fill="#000" textLength="7.95" lengthAdjust="spacingAndGlyphs">0</text>
<line x1="369.8" y1="563.28" x2="374.5" y2="563.28" stroke="#000" stroke-width="2.4"/>
<line x1="369.8" y1="511.43" x2="374.5" y2="511.43" stroke="#000" stroke-width="2.4"/>
<line x1="372.2" y1="594.3" x2="476.6" y2="594.3" stroke="#000" stroke-width="2.9"/>
<line x1="378.9" y1="593" x2="378.9" y2="601.5" stroke="#000" stroke-width="2.6"/>
<line x1="394.94" y1="593" x2="394.94" y2="597.5" stroke="#000" stroke-width="2.6"/>
<line x1="410.97" y1="593" x2="410.97" y2="601.5" stroke="#000" stroke-width="2.6"/>
<line x1="427" y1="593" x2="427" y2="597.5" stroke="#000" stroke-width="2.6"/>
<line x1="443.04" y1="593" x2="443.04" y2="601.5" stroke="#000" stroke-width="2.6"/>
<line x1="459.07" y1="593" x2="459.07" y2="597.5" stroke="#000" stroke-width="2.6"/>
<line x1="475.11" y1="593" x2="475.11" y2="601.5" stroke="#000" stroke-width="2.6"/>
<text x="368.77" y="617.6" font-size="13" font-weight="bold" fill="#000" textLength="19.88" lengthAdjust="spacingAndGlyphs">0.0</text>
<text x="400.75" y="617.6" font-size="13" font-weight="bold" fill="#000" textLength="19.88" lengthAdjust="spacingAndGlyphs">0.1</text>
<text x="432.9" y="617.6" font-size="13" font-weight="bold" fill="#000" textLength="19.88" lengthAdjust="spacingAndGlyphs">0.2</text>
<text x="464.95" y="617.6" font-size="13" font-weight="bold" fill="#000" textLength="19.88" lengthAdjust="spacingAndGlyphs">0.3</text>
<line x1="497" y1="594" x2="597.2" y2="594" stroke="#000" stroke-width="2.9"/>
<line x1="498.6" y1="592.7" x2="498.6" y2="601" stroke="#000" stroke-width="2.6"/>
<line x1="510.7" y1="592.7" x2="510.7" y2="597.2" stroke="#000" stroke-width="2.6"/>
<line x1="522.8" y1="592.7" x2="522.8" y2="601" stroke="#000" stroke-width="2.6"/>
<line x1="534.9" y1="592.7" x2="534.9" y2="597.2" stroke="#000" stroke-width="2.6"/>
<line x1="547" y1="592.7" x2="547" y2="601" stroke="#000" stroke-width="2.6"/>
<line x1="559.1" y1="592.7" x2="559.1" y2="597.2" stroke="#000" stroke-width="2.6"/>
<line x1="571.2" y1="592.7" x2="571.2" y2="601" stroke="#000" stroke-width="2.6"/>
<line x1="583.3" y1="592.7" x2="583.3" y2="597.2" stroke="#000" stroke-width="2.6"/>
<line x1="595.4" y1="592.7" x2="595.4" y2="601" stroke="#000" stroke-width="2.6"/>
<text x="494.63" y="617.6" font-size="13" font-weight="bold" fill="#000" textLength="7.95" lengthAdjust="spacingAndGlyphs">0</text>
<text x="518.57" y="617.6" font-size="13" font-weight="bold" fill="#000" textLength="7.95" lengthAdjust="spacingAndGlyphs">1</text>
<text x="543.06" y="617.6" font-size="13" font-weight="bold" fill="#000" textLength="7.95" lengthAdjust="spacingAndGlyphs">2</text>
<text x="567.32" y="617.6" font-size="13" font-weight="bold" fill="#000" textLength="7.95" lengthAdjust="spacingAndGlyphs">3</text>
<text x="591.35" y="617.6" font-size="13" font-weight="bold" fill="#000" textLength="7.95" lengthAdjust="spacingAndGlyphs">4</text>
<text x="470.41" y="638.6" font-size="15" font-weight="bold" fill="#000" textLength="31.1" lengthAdjust="spacingAndGlyphs">mM</text>
<text transform="translate(330.7,608.22) rotate(-90)" font-size="17.3" font-weight="bold" fill="#000" textLength="115.53" lengthAdjust="spacingAndGlyphs">Inhibition (%)</text>
<text x="381.6" y="492" font-size="16.7" font-weight="bold" fill="#f5831f" textLength="96.35" lengthAdjust="spacingAndGlyphs">Tannic acid</text>
<text x="519.27" y="492" font-size="16.7" font-weight="bold" fill="#ee1419" textLength="45.7" lengthAdjust="spacingAndGlyphs">A-9-C</text>
<polyline points="378.4,589 380.5,584.4 383.3,556 385.6,545.8 386.5,540.1 389,532.2 394.7,523.1 401.5,519.2 410.5,516.9 420,516.4 443.3,515.8 460,516.6 475.5,517.3" fill="none" stroke="#f5831f" stroke-width="3" stroke-linejoin="round" stroke-linecap="round"/>
<circle cx="378.4" cy="589" r="6.7" fill="#f5831f"/>
<ellipse cx="375.72" cy="586.19" rx="2.68" ry="2.41" fill="url(#hl_gOrange)"/>
<circle cx="386.5" cy="540.3" r="6.7" fill="#f5831f"/>
<ellipse cx="383.82" cy="537.49" rx="2.68" ry="2.41" fill="url(#hl_gOrange)"/>
<circle cx="410.6" cy="517.5" r="6.7" fill="#f5831f"/>
<ellipse cx="407.92" cy="514.69" rx="2.68" ry="2.41" fill="url(#hl_gOrange)"/>
<circle cx="443.2" cy="515.8" r="6.7" fill="#f5831f"/>
<ellipse cx="440.52" cy="512.99" rx="2.68" ry="2.41" fill="url(#hl_gOrange)"/>
<circle cx="475.5" cy="517.4" r="6.7" fill="#f5831f"/>
<ellipse cx="472.82" cy="514.59" rx="2.68" ry="2.41" fill="url(#hl_gOrange)"/>
<polyline points="498.3,587.5 500,565.7 503.2,558.6 509,548.4 516.4,539.6 523,535.3 534,531 546.9,526.4 558.9,522 571.4,518.3" fill="none" stroke="#ee1419" stroke-width="3" stroke-linejoin="round" stroke-linecap="round"/>
<circle cx="498.3" cy="587.6" r="6.5" fill="#ec141c"/>
<ellipse cx="495.7" cy="584.87" rx="2.6" ry="2.34" fill="url(#hl_gRed)"/>
<line x1="495.4" y1="561.5" x2="504.6" y2="561.5" stroke="#ee1419" stroke-width="2.4"/>
<line x1="495.4" y1="569.9" x2="504.6" y2="569.9" stroke="#ee1419" stroke-width="2.4"/>
<circle cx="500" cy="565.7" r="6.5" fill="#ec141c"/>
<ellipse cx="497.4" cy="562.97" rx="2.6" ry="2.34" fill="url(#hl_gRed)"/>
<line x1="518.4" y1="537" x2="527.6" y2="537" stroke="#ee1419" stroke-width="2.4"/>
<line x1="518.4" y1="545" x2="527.6" y2="545" stroke="#ee1419" stroke-width="2.4"/>
<circle cx="523" cy="541" r="6.5" fill="#ec141c"/>
<ellipse cx="520.4" cy="538.27" rx="2.6" ry="2.34" fill="url(#hl_gRed)"/>
<line x1="542.3" y1="526" x2="551.5" y2="526" stroke="#ee1419" stroke-width="2.4"/>
<line x1="542.3" y1="534" x2="551.5" y2="534" stroke="#ee1419" stroke-width="2.4"/>
<circle cx="546.9" cy="530" r="6.5" fill="#ec141c"/>
<ellipse cx="544.3" cy="527.27" rx="2.6" ry="2.34" fill="url(#hl_gRed)"/>
<circle cx="570.6" cy="510.2" r="6.5" fill="#ec141c"/>
<ellipse cx="568" cy="507.47" rx="2.6" ry="2.34" fill="url(#hl_gRed)"/>
<line x1="403.8" y1="696.5" x2="505.4" y2="696.5" stroke="#000" stroke-width="1.6"/>
<line x1="403.8" y1="702.32" x2="505.4" y2="702.32" stroke="#000" stroke-width="1.6"/>
<line x1="403.8" y1="708.13" x2="505.4" y2="708.13" stroke="#000" stroke-width="1.6"/>
<line x1="403.8" y1="713.95" x2="505.4" y2="713.95" stroke="#000" stroke-width="1.6"/>
<line x1="403.8" y1="719.76" x2="505.4" y2="719.76" stroke="#000" stroke-width="1.6"/>
<line x1="403.8" y1="725.58" x2="505.4" y2="725.58" stroke="#000" stroke-width="1.6"/>
<line x1="403.8" y1="731.39" x2="505.4" y2="731.39" stroke="#000" stroke-width="1.6"/>
<line x1="403.8" y1="737.21" x2="505.4" y2="737.21" stroke="#000" stroke-width="1.6"/>
<line x1="403.8" y1="743.02" x2="505.4" y2="743.02" stroke="#000" stroke-width="1.6"/>
<line x1="403.8" y1="748.84" x2="505.4" y2="748.84" stroke="#000" stroke-width="1.6"/>
<line x1="403.8" y1="754.65" x2="505.4" y2="754.65" stroke="#000" stroke-width="1.6"/>
<line x1="403.8" y1="760.47" x2="505.4" y2="760.47" stroke="#000" stroke-width="1.6"/>
<line x1="403.8" y1="766.28" x2="505.4" y2="766.28" stroke="#000" stroke-width="1.6"/>
<line x1="403.8" y1="772.1" x2="505.4" y2="772.1" stroke="#000" stroke-width="1.6"/>
<line x1="403.8" y1="695.7" x2="403.8" y2="772.9" stroke="#000" stroke-width="1.6"/>
<line x1="505.4" y1="695.7" x2="505.4" y2="772.9" stroke="#000" stroke-width="1.6"/>
<line x1="399.2" y1="760.4" x2="403.8" y2="760.4" stroke="#000" stroke-width="1.4"/>
<line x1="505.4" y1="772.1" x2="548" y2="772.1" stroke="#000" stroke-width="1.6"/>
<text x="423.23" y="692.6" font-size="16.3" font-weight="normal" fill="#000" textLength="72.15" lengthAdjust="spacingAndGlyphs">+160 mV</text>
<text x="515.64" y="743.8" font-size="14" font-weight="normal" fill="#000" textLength="10.22" lengthAdjust="spacingAndGlyphs">Δ</text>
<text x="530.71" y="743.6" font-size="16.3" font-weight="normal" fill="#000" textLength="51.07" lengthAdjust="spacingAndGlyphs">20 mV</text>
<text x="330.4" y="765.1" font-size="16.3" font-weight="normal" fill="#000" textLength="62.88" lengthAdjust="spacingAndGlyphs">- 30 mV</text>
<text x="545.4" y="773.8" font-size="16.3" font-weight="normal" fill="#000" textLength="67.98" lengthAdjust="spacingAndGlyphs">-100 mV</text>
</svg>
</body></html>
